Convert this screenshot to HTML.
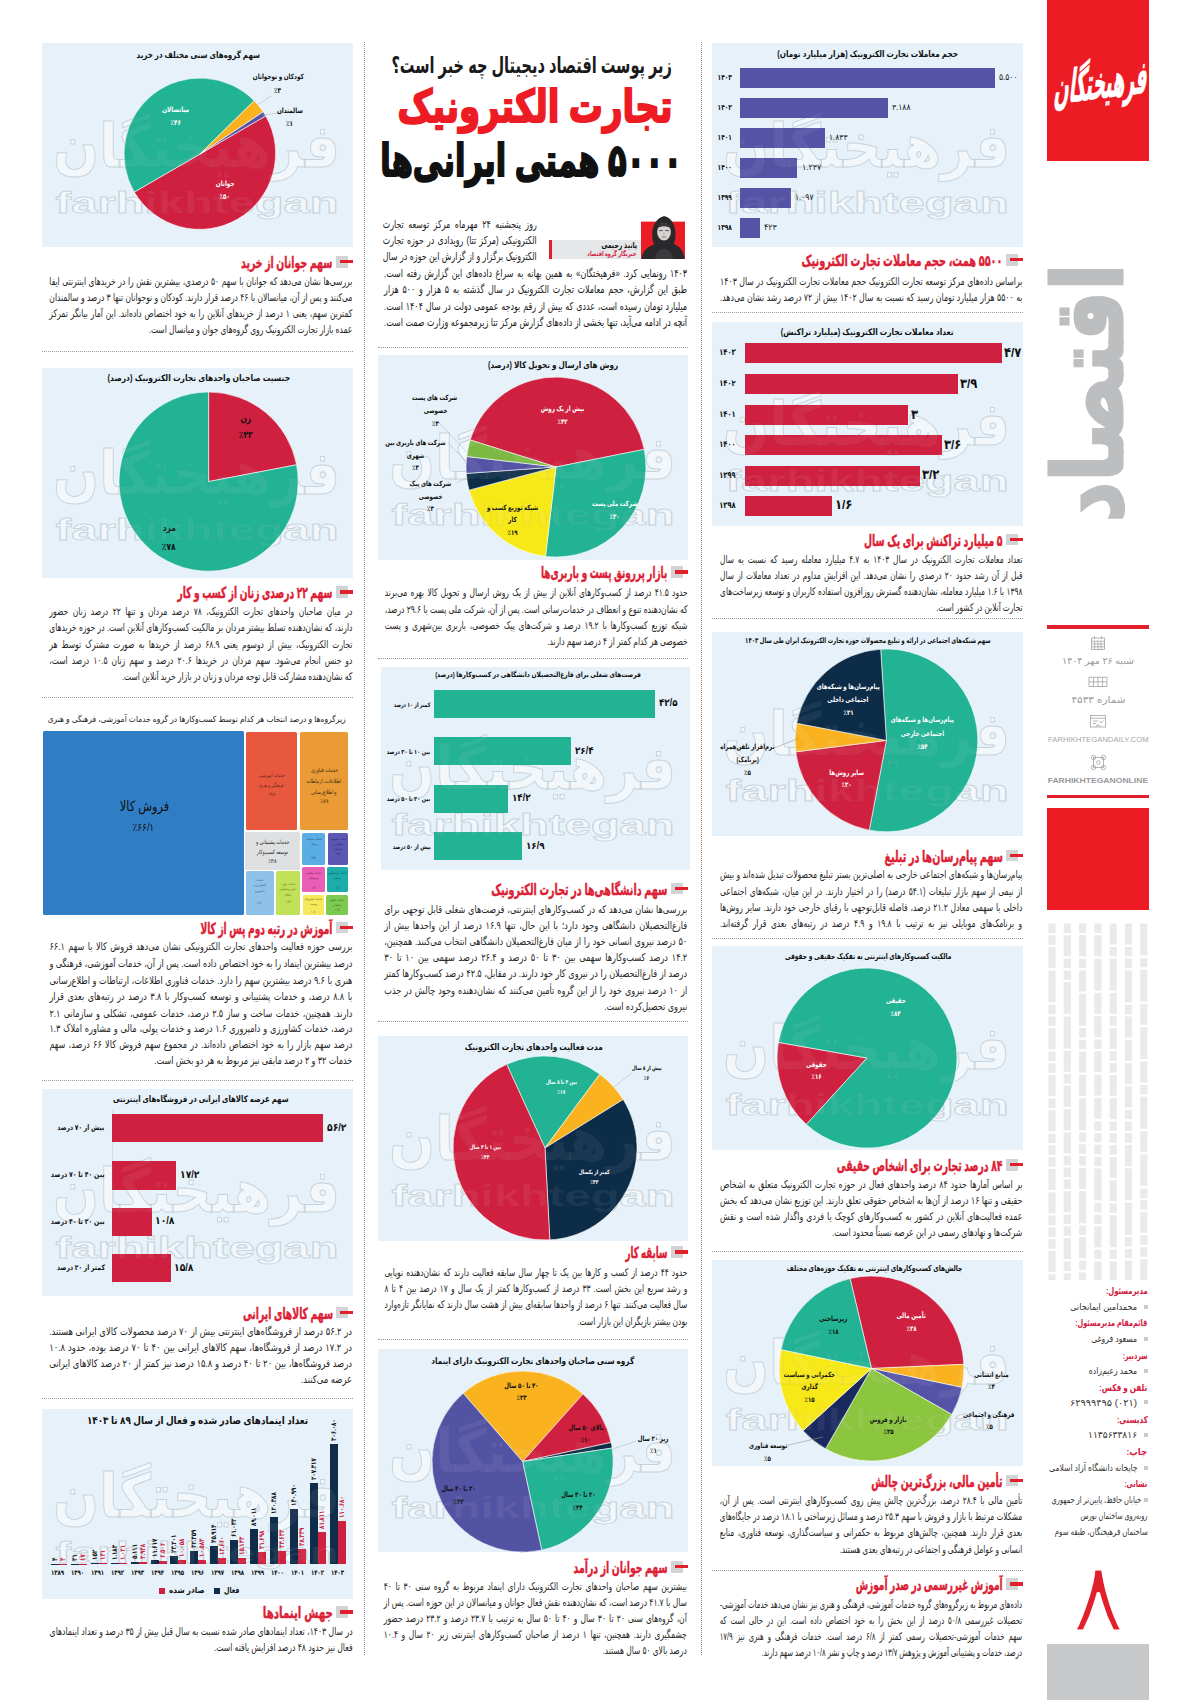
<!DOCTYPE html>
<html lang="fa"><head><meta charset="utf-8"><title>اقتصاد - فرهیختگان</title><style>
*{box-sizing:border-box}
html,body{margin:0;padding:0}
html{width:1191px;height:1700px;overflow:hidden}
body{width:1191px;height:1700px;position:relative;overflow:hidden;background:#fff;font-family:'Liberation Sans','DejaVu Sans',sans-serif;direction:ltr}
.ab{position:absolute;display:block}
.pn{position:absolute;background:#e6f1fa}
.ct,.rt,.lt{position:absolute;white-space:nowrap;direction:rtl}
.ct{text-align:center}.rt{text-align:right}.lt{text-align:left}
.ct span,.rt span,.lt span{display:inline-block}
.hd{position:absolute;height:0;border-top:1px dotted #9a9a9a}
.vd{position:absolute;width:0;border-left:1px dotted #8a8a8a}
.hh{position:absolute;direction:rtl;width:400px;height:23px;line-height:23px;text-align:right;white-space:nowrap;font-size:15.5px;font-weight:bold;color:#dc1f36;-webkit-text-stroke:0.45px #dc1f36}
.hh span{display:inline-block;transform-origin:right center}
.ln{position:absolute;height:14px;line-height:14px;white-space:nowrap;text-align:justify;text-align-last:justify;transform-origin:right center;direction:rtl}
.ln.ll{text-align:right;text-align-last:right}
.wm{position:absolute;width:400px;text-align:center;color:rgba(255,255,255,.6);opacity:.85;pointer-events:none;font-family:'Liberation Sans','DejaVu Sans',sans-serif;font-weight:bold;white-space:nowrap}
.wm span{display:inline-block}
.wm.wo{color:rgba(255,255,255,.06);opacity:1}
.wm.wo .wm1,.wm.wo .wm2{-webkit-text-stroke:.8px rgba(90,110,125,.07)}
.wm1{direction:rtl;font-size:60px;line-height:74px;height:74px;-webkit-text-stroke:1px #ccd6dd}
.wm2{direction:ltr;font-size:30px;line-height:34px;height:34px;-webkit-text-stroke:.9px #ccd6dd;margin-top:2px}
.vl{position:absolute;width:0;height:0}
.vl span{position:absolute;left:0;top:0;white-space:nowrap;font-weight:bold;transform:translate(0,-50%) rotate(-90deg) scaleX(.77);transform-origin:left center;line-height:8px;height:8px;margin-top:0;direction:rtl}
.logo{position:absolute;direction:rtl;text-align:center;white-space:nowrap;color:#fff;font-weight:bold;font-size:30px;line-height:60px;height:60px;font-family:'Liberation Sans','DejaVu Sans',sans-serif}
.logo span{display:inline-block;transform:rotate(-7deg) skewX(-14deg) scaleX(.585) scaleY(1.5);-webkit-text-stroke:.6px #fff}
.sect{position:absolute;width:0;height:0}
.sect span{position:absolute;left:0;top:0;white-space:nowrap;color:#bcbec0;-webkit-text-stroke:2.5px #bcbec0;font-weight:bold;font-size:80px;line-height:80px;font-family:'Liberation Sans','DejaVu Sans',sans-serif;transform:translate(-50%,-50%) rotate(-90deg) scale(.985,1.2);display:block}
.pno{position:absolute;text-align:center;color:#e2202c;font-size:98px;line-height:100px;height:100px;-webkit-text-stroke:3px #fff;font-family:'Liberation Sans','DejaVu Sans',sans-serif;font-weight:normal}
.pno span{display:inline-block;transform:scaleX(1.02)}
</style></head><body>
<div class="vd" style="left:364.4px;top:42px;height:1613px"></div>
<div class="vd" style="left:701.4px;top:42px;height:1613px"></div>
<div class="pn" style="left:712.1px;top:43px;width:310.7px;height:204px"></div>
<div class="wm" style="left:667.0px;top:110.0px"><div class="wm1"><span style="transform:scaleX(0.899)">فرهیختگان</span></div><div class="wm2"><span style="transform:scaleX(1.572)">farhikhtegan</span></div></div>
<div class="ct" style="left:467.9px;top:47.6px;width:800px;height:12.3px;line-height:12.3px;font-size:8.8px;color:#111;font-weight:bold;font-family:'Liberation Sans','DejaVu Sans',sans-serif;"><span style="transform:scaleX(0.8315)">حجم معاملات تجارت الکترونیک (هزار میلیارد تومان)</span></div>
<div class="ab" style="left:740.0px;top:68.0px;width:254.6px;height:19.6px;background:#5553a6;"></div>
<div class="ct" style="left:324.3px;top:71.9px;width:800px;height:11.2px;line-height:11.2px;font-size:8px;color:#111;font-weight:bold;font-family:'Liberation Sans','DejaVu Sans',sans-serif;"><span style="transform:scaleX(0.7322)">۱۴۰۳</span></div>
<div class="lt" style="left:999.1px;top:71.5px;width:400px;height:11.9px;line-height:11.9px;font-size:8.5px;color:#222;font-weight:normal;font-family:'Liberation Sans','DejaVu Sans',sans-serif;"><span style="transform:scaleX(0.8970);transform-origin:left center">۵.۵۰۰</span></div>
<div class="ab" style="left:740.0px;top:98.0px;width:147.5px;height:19.6px;background:#5553a6;"></div>
<div class="ct" style="left:324.3px;top:101.9px;width:800px;height:11.2px;line-height:11.2px;font-size:8px;color:#111;font-weight:bold;font-family:'Liberation Sans','DejaVu Sans',sans-serif;"><span style="transform:scaleX(0.7322)">۱۴۰۲</span></div>
<div class="lt" style="left:892.0px;top:101.5px;width:400px;height:11.9px;line-height:11.9px;font-size:8.5px;color:#222;font-weight:normal;font-family:'Liberation Sans','DejaVu Sans',sans-serif;"><span style="transform:scaleX(0.8970);transform-origin:left center">۳.۱۸۸</span></div>
<div class="ab" style="left:740.0px;top:128.0px;width:84.8px;height:19.6px;background:#5553a6;"></div>
<div class="ct" style="left:324.3px;top:131.9px;width:800px;height:11.2px;line-height:11.2px;font-size:8px;color:#111;font-weight:bold;font-family:'Liberation Sans','DejaVu Sans',sans-serif;"><span style="transform:scaleX(0.7322)">۱۴۰۱</span></div>
<div class="lt" style="left:829.3px;top:131.6px;width:400px;height:11.9px;line-height:11.9px;font-size:8.5px;color:#222;font-weight:normal;font-family:'Liberation Sans','DejaVu Sans',sans-serif;"><span style="transform:scaleX(0.8970);transform-origin:left center">۱.۸۳۳</span></div>
<div class="ab" style="left:740.0px;top:158.0px;width:57.0px;height:19.6px;background:#5553a6;"></div>
<div class="ct" style="left:324.3px;top:161.9px;width:800px;height:11.2px;line-height:11.2px;font-size:8px;color:#111;font-weight:bold;font-family:'Liberation Sans','DejaVu Sans',sans-serif;"><span style="transform:scaleX(0.7322)">۱۴۰۰</span></div>
<div class="lt" style="left:801.5px;top:161.6px;width:400px;height:11.9px;line-height:11.9px;font-size:8.5px;color:#222;font-weight:normal;font-family:'Liberation Sans','DejaVu Sans',sans-serif;"><span style="transform:scaleX(0.9406);transform-origin:left center">۱.۲۳۷</span></div>
<div class="ab" style="left:740.0px;top:188.0px;width:50.8px;height:19.6px;background:#5553a6;"></div>
<div class="ct" style="left:324.3px;top:191.9px;width:800px;height:11.2px;line-height:11.2px;font-size:8px;color:#111;font-weight:bold;font-family:'Liberation Sans','DejaVu Sans',sans-serif;"><span style="transform:scaleX(0.7322)">۱۳۹۹</span></div>
<div class="lt" style="left:795.3px;top:191.6px;width:400px;height:11.9px;line-height:11.9px;font-size:8.5px;color:#222;font-weight:normal;font-family:'Liberation Sans','DejaVu Sans',sans-serif;"><span style="transform:scaleX(0.8970);transform-origin:left center">۱.۰۹۷</span></div>
<div class="ab" style="left:740.0px;top:218.0px;width:19.5px;height:19.6px;background:#5553a6;"></div>
<div class="ct" style="left:324.3px;top:221.9px;width:800px;height:11.2px;line-height:11.2px;font-size:8px;color:#111;font-weight:bold;font-family:'Liberation Sans','DejaVu Sans',sans-serif;"><span style="transform:scaleX(0.7322)">۱۳۹۸</span></div>
<div class="lt" style="left:764.0px;top:221.6px;width:400px;height:11.9px;line-height:11.9px;font-size:8.5px;color:#222;font-weight:normal;font-family:'Liberation Sans','DejaVu Sans',sans-serif;"><span style="transform:scaleX(0.9341);transform-origin:left center">۴۲۳</span></div>
<div class="ab" style="left:1006.3px;top:254.0px;width:12.1px;height:11.5px;background:#d1d3d4;"></div>
<div class="ab" style="left:1010.0px;top:258.0px;width:12.8px;height:3.3px;background:#e2202c;"></div>
<div class="hh" style="left:602.8px;top:249.1px"><span style="transform:scaleX(0.6291)">۵۵۰۰ همت، حجم معاملات تجارت الکترونیک</span></div>
<div class="ln" style="right:168.8px;top:274.3px;width:407.5px;font-size:10.5px;color:#262626;transform:scaleX(0.7421)">براساس داده‌های مرکز توسعه تجارت الکترونیک حجم معاملات تجارت الکترونیک در سال ۱۴۰۳</div>
<div class="ln" style="right:168.8px;top:289.5px;width:407.5px;font-size:10.5px;color:#262626;transform:scaleX(0.7421)">به ۵۵۰۰ هزار میلیارد تومان رسید که نسبت به سال ۱۴۰۲ بیش از ۷۲ درصد رشد نشان می‌دهد.</div>
<div class="hd" style="left:712.1px;top:312px;width:310.7px"></div>
<div class="pn" style="left:712.1px;top:321.5px;width:310.7px;height:204px"></div>
<div class="wm" style="left:667.0px;top:388.0px"><div class="wm1"><span style="transform:scaleX(0.899)">فرهیختگان</span></div><div class="wm2"><span style="transform:scaleX(1.572)">farhikhtegan</span></div></div>
<div class="ct" style="left:467.6px;top:325.9px;width:800px;height:12.3px;line-height:12.3px;font-size:8.8px;color:#111;font-weight:bold;font-family:'Liberation Sans','DejaVu Sans',sans-serif;"><span style="transform:scaleX(0.8450)">تعداد معاملات تجارت الکترونیک (میلیارد تراکنش)</span></div>
<div class="ab" style="left:745.0px;top:343.4px;width:256.7px;height:20.0px;background:#cf2040;"></div>
<div class="ct" style="left:327.2px;top:347.4px;width:800px;height:11.9px;line-height:11.9px;font-size:8.5px;color:#111;font-weight:bold;font-family:'Liberation Sans','DejaVu Sans',sans-serif;"><span style="transform:scaleX(0.7946)">۱۴۰۳</span></div>
<div class="lt" style="left:1004.2px;top:344.2px;width:400px;height:17.6px;line-height:17.6px;font-size:13.5px;color:#111;font-weight:bold;font-family:'Liberation Sans','DejaVu Sans',sans-serif;"><span style="transform:scaleX(0.86);transform-origin:left center">۴/۷</span></div>
<div class="ab" style="left:745.0px;top:374.2px;width:212.8px;height:20.0px;background:#cf2040;"></div>
<div class="ct" style="left:327.2px;top:378.2px;width:800px;height:11.9px;line-height:11.9px;font-size:8.5px;color:#111;font-weight:bold;font-family:'Liberation Sans','DejaVu Sans',sans-serif;"><span style="transform:scaleX(0.7946)">۱۴۰۲</span></div>
<div class="lt" style="left:960.3px;top:375.0px;width:400px;height:17.6px;line-height:17.6px;font-size:13.5px;color:#111;font-weight:bold;font-family:'Liberation Sans','DejaVu Sans',sans-serif;"><span style="transform:scaleX(0.86);transform-origin:left center">۳/۹</span></div>
<div class="ab" style="left:745.0px;top:404.8px;width:163.4px;height:20.0px;background:#cf2040;"></div>
<div class="ct" style="left:327.2px;top:408.9px;width:800px;height:11.9px;line-height:11.9px;font-size:8.5px;color:#111;font-weight:bold;font-family:'Liberation Sans','DejaVu Sans',sans-serif;"><span style="transform:scaleX(0.7946)">۱۴۰۱</span></div>
<div class="lt" style="left:910.9px;top:405.6px;width:400px;height:17.6px;line-height:17.6px;font-size:13.5px;color:#111;font-weight:bold;font-family:'Liberation Sans','DejaVu Sans',sans-serif;"><span style="transform:scaleX(0.86);transform-origin:left center">۳</span></div>
<div class="ab" style="left:745.0px;top:434.7px;width:196.8px;height:20.0px;background:#cf2040;"></div>
<div class="ct" style="left:327.2px;top:438.8px;width:800px;height:11.9px;line-height:11.9px;font-size:8.5px;color:#111;font-weight:bold;font-family:'Liberation Sans','DejaVu Sans',sans-serif;"><span style="transform:scaleX(0.7946)">۱۴۰۰</span></div>
<div class="lt" style="left:944.3px;top:435.5px;width:400px;height:17.6px;line-height:17.6px;font-size:13.5px;color:#111;font-weight:bold;font-family:'Liberation Sans','DejaVu Sans',sans-serif;"><span style="transform:scaleX(0.86);transform-origin:left center">۳/۶</span></div>
<div class="ab" style="left:745.0px;top:465.6px;width:174.8px;height:20.0px;background:#cf2040;"></div>
<div class="ct" style="left:327.2px;top:469.7px;width:800px;height:11.9px;line-height:11.9px;font-size:8.5px;color:#111;font-weight:bold;font-family:'Liberation Sans','DejaVu Sans',sans-serif;"><span style="transform:scaleX(0.7946)">۱۳۹۹</span></div>
<div class="lt" style="left:922.3px;top:466.4px;width:400px;height:17.6px;line-height:17.6px;font-size:13.5px;color:#111;font-weight:bold;font-family:'Liberation Sans','DejaVu Sans',sans-serif;"><span style="transform:scaleX(0.86);transform-origin:left center">۳/۲</span></div>
<div class="ab" style="left:745.0px;top:495.5px;width:87.2px;height:20.0px;background:#cf2040;"></div>
<div class="ct" style="left:327.2px;top:499.6px;width:800px;height:11.9px;line-height:11.9px;font-size:8.5px;color:#111;font-weight:bold;font-family:'Liberation Sans','DejaVu Sans',sans-serif;"><span style="transform:scaleX(0.7946)">۱۳۹۸</span></div>
<div class="lt" style="left:834.7px;top:496.3px;width:400px;height:17.6px;line-height:17.6px;font-size:13.5px;color:#111;font-weight:bold;font-family:'Liberation Sans','DejaVu Sans',sans-serif;"><span style="transform:scaleX(0.86);transform-origin:left center">۱/۶</span></div>
<div class="ab" style="left:1006.3px;top:533.9px;width:12.1px;height:11.5px;background:#d1d3d4;"></div>
<div class="ab" style="left:1010.0px;top:537.9px;width:12.8px;height:3.3px;background:#e2202c;"></div>
<div class="hh" style="left:602.8px;top:529.0px"><span style="transform:scaleX(0.5983)">۵ میلیارد تراکنش برای یک سال</span></div>
<div class="ln" style="right:168.8px;top:551.5px;width:427.5px;font-size:10.5px;color:#262626;transform:scaleX(0.7074)">تعداد معاملات تجارت الکترونیک در سال ۱۴۰۳ به ۴.۷ میلیارد معامله رسید که نسبت به سال</div>
<div class="ln" style="right:168.8px;top:567.7px;width:427.5px;font-size:10.5px;color:#262626;transform:scaleX(0.7074)">قبل از آن رشد حدود ۲۰ درصدی را نشان می‌دهد. این افزایش مداوم در تعداد معاملات از سال</div>
<div class="ln" style="right:168.8px;top:584.1px;width:427.5px;font-size:10.5px;color:#262626;transform:scaleX(0.7074)">۱۳۹۸ با ۱.۶ میلیارد معامله، نشان‌دهنده گسترش روزافزون استفاده کاربران و توسعه زیرساخت‌های</div>
<div class="ln ll" style="right:168.8px;top:600.3px;width:427.5px;font-size:10.5px;color:#262626;transform:scaleX(0.7074)">تجارت آنلاین در کشور است.</div>
<div class="hd" style="left:712.1px;top:618px;width:310.7px"></div>
<div class="pn" style="left:712.1px;top:631.5px;width:310.7px;height:204.5px"></div>
<div class="wm" style="left:667.0px;top:698.0px"><div class="wm1"><span style="transform:scaleX(0.899)">فرهیختگان</span></div><div class="wm2"><span style="transform:scaleX(1.572)">farhikhtegan</span></div></div>
<div class="ct" style="left:467.9px;top:635.5px;width:800px;height:10.6px;line-height:10.6px;font-size:7.6px;color:#111;font-weight:bold;font-family:'Liberation Sans','DejaVu Sans',sans-serif;"><span style="transform:scaleX(0.7102)">سهم شبکه‌های اجتماعی در ارائه و تبلیغ محصولات حوزه تجارت الکترونیک ایران طی سال ۱۴۰۳</span></div>
<svg class="ab" style="left:792.6px;top:647.1px" width="186.8" height="186.8" viewBox="792.6 647.1 186.8 186.8"><path d="M886.0 740.5L880.26 649.28A91.4 91.4 0 1 1 868.87 830.28Z" fill="#22b294" stroke="#fff" stroke-width="0.6"/><path d="M886.0 740.5L868.87 830.28A91.4 91.4 0 0 1 795.32 751.96Z" fill="#cf2040" stroke="#fff" stroke-width="0.6"/><path d="M886.0 740.5L795.32 751.96A91.4 91.4 0 0 1 796.22 723.37Z" fill="#fab31e" stroke="#fff" stroke-width="0.6"/><path d="M886.0 740.5L796.22 723.37A91.4 91.4 0 0 1 880.26 649.28Z" fill="#0c2c47" stroke="#fff" stroke-width="0.6"/></svg>
<div class="ct" style="left:772.7px;top:715.2px;width:300px;height:9.4px;line-height:9.4px;font-size:7.2px;color:#fff;font-weight:bold;"><span style="transform:scaleX(0.765)">پیام‌رسان‌ها و شبکه‌های</span></div>
<div class="ct" style="left:772.7px;top:728.6px;width:300px;height:9.4px;line-height:9.4px;font-size:7.2px;color:#fff;font-weight:bold;"><span style="transform:scaleX(0.765)">اجتماعی خارجی</span></div>
<div class="ct" style="left:772.7px;top:741.8px;width:300px;height:9.4px;line-height:9.4px;font-size:7.2px;color:#fff;font-weight:bold;"><span style="transform:scaleX(0.765)">٪۵۴</span></div>
<div class="ct" style="left:698.4px;top:681.8px;width:300px;height:9.4px;line-height:9.4px;font-size:7.2px;color:#fff;font-weight:bold;"><span style="transform:scaleX(0.765)">پیام‌رسان‌ها و شبکه‌های</span></div>
<div class="ct" style="left:698.4px;top:694.7px;width:300px;height:9.4px;line-height:9.4px;font-size:7.2px;color:#fff;font-weight:bold;"><span style="transform:scaleX(0.765)">اجتماعی داخلی</span></div>
<div class="ct" style="left:698.4px;top:707.5px;width:300px;height:9.4px;line-height:9.4px;font-size:7.2px;color:#fff;font-weight:bold;"><span style="transform:scaleX(0.765)">٪۲۱</span></div>
<div class="ct" style="left:696.2px;top:768.0px;width:300px;height:9.4px;line-height:9.4px;font-size:7.2px;color:#fff;font-weight:bold;"><span style="transform:scaleX(0.765)">سایر روش‌ها</span></div>
<div class="ct" style="left:696.2px;top:780.0px;width:300px;height:9.4px;line-height:9.4px;font-size:7.2px;color:#fff;font-weight:bold;"><span style="transform:scaleX(0.765)">٪۲۰</span></div>
<div class="ct" style="left:597.1px;top:741.8px;width:300px;height:9.4px;line-height:9.4px;font-size:7.2px;color:#111;font-weight:bold;"><span style="transform:scaleX(0.765)">نرم‌افزار تلفن‌همراه</span></div>
<div class="ct" style="left:597.1px;top:754.6px;width:300px;height:9.4px;line-height:9.4px;font-size:7.2px;color:#111;font-weight:bold;"><span style="transform:scaleX(0.765)">(برنامک)</span></div>
<div class="ct" style="left:597.1px;top:768.0px;width:300px;height:9.4px;line-height:9.4px;font-size:7.2px;color:#111;font-weight:bold;"><span style="transform:scaleX(0.765)">٪۵</span></div>
<svg class="ab" style="left:771.8px;top:737.5px" width="26.2" height="11.4" viewBox="771.8 737.5 26.2 11.4"><path d="M772.8 747.9L797.0 738.5" stroke="#999" stroke-width="0.6" fill="none"/></svg>
<div class="ab" style="left:1006.3px;top:849.7px;width:12.1px;height:11.5px;background:#d1d3d4;"></div>
<div class="ab" style="left:1010.0px;top:853.7px;width:12.8px;height:3.3px;background:#e2202c;"></div>
<div class="hh" style="left:602.8px;top:844.8px"><span style="transform:scaleX(0.6174)">سهم پیام‌رسان‌ها در تبلیغ</span></div>
<div class="ln" style="right:168.8px;top:867.2px;width:417.3px;font-size:10.5px;color:#262626;transform:scaleX(0.7247)">پیام‌رسان‌ها و شبکه‌های اجتماعی خارجی به اصلی‌ترین بستر تبلیغ محصولات تبدیل شده‌اند و بیش</div>
<div class="ln" style="right:168.8px;top:883.7px;width:417.3px;font-size:10.5px;color:#262626;transform:scaleX(0.7247)">از نیمی از سهم بازار تبلیغات (۵۴.۱ درصد) را در اختیار دارند. در این میان، شبکه‌های اجتماعی</div>
<div class="ln" style="right:168.8px;top:900.0px;width:417.3px;font-size:10.5px;color:#262626;transform:scaleX(0.7247)">داخلی با سهمی معادل ۲۱.۲ درصد، فاصله قابل‌توجهی با رقبای خارجی خود دارند. سایر روش‌ها</div>
<div class="ln" style="right:168.8px;top:916.0px;width:417.3px;font-size:10.5px;color:#262626;transform:scaleX(0.7247)">و برنامک‌های موبایلی نیز به ترتیب با ۱۹.۸ و ۴.۹ درصد در رتبه‌های بعدی قرار گرفته‌اند.</div>
<div class="hd" style="left:712.1px;top:937.5px;width:310.7px"></div>
<div class="pn" style="left:712.1px;top:945.7px;width:310.7px;height:204px"></div>
<div class="wm" style="left:667.0px;top:1012.0px"><div class="wm1"><span style="transform:scaleX(0.899)">فرهیختگان</span></div><div class="wm2"><span style="transform:scaleX(1.572)">farhikhtegan</span></div></div>
<div class="ct" style="left:467.9px;top:950.5px;width:800px;height:11.5px;line-height:11.5px;font-size:8.2px;color:#111;font-weight:bold;font-family:'Liberation Sans','DejaVu Sans',sans-serif;"><span style="transform:scaleX(0.7223)">مالکیت کسب‌وکارهای اینترنتی به تفکیک حقیقی و حقوقی</span></div>
<svg class="ab" style="left:774.9px;top:965.6px" width="184.0" height="184.0" viewBox="774.9 965.6 184.0 184.0"><path d="M866.9 1057.6L806.21 1124.06A90.0 90.0 0 0 1 778.27 1041.97Z" fill="#cf2040" stroke="#fff" stroke-width="0.6"/><path d="M866.9 1057.6L778.27 1041.97A90.0 90.0 0 1 1 806.21 1124.06Z" fill="#22b294" stroke="#fff" stroke-width="0.6"/></svg>
<div class="ct" style="left:745.5px;top:996.1px;width:300px;height:9.4px;line-height:9.4px;font-size:7.2px;color:#fff;font-weight:bold;"><span style="transform:scaleX(0.765)">حقیقی</span></div>
<div class="ct" style="left:745.5px;top:1008.6px;width:300px;height:9.4px;line-height:9.4px;font-size:7.2px;color:#fff;font-weight:bold;"><span style="transform:scaleX(0.765)">٪۸۴</span></div>
<div class="ct" style="left:666.5px;top:1060.0px;width:300px;height:9.4px;line-height:9.4px;font-size:7.2px;color:#fff;font-weight:bold;"><span style="transform:scaleX(0.765)">حقوقی</span></div>
<div class="ct" style="left:666.5px;top:1072.3px;width:300px;height:9.4px;line-height:9.4px;font-size:7.2px;color:#fff;font-weight:bold;"><span style="transform:scaleX(0.765)">٪۱۶</span></div>
<div class="ab" style="left:1006.3px;top:1159.1px;width:12.1px;height:11.5px;background:#d1d3d4;"></div>
<div class="ab" style="left:1010.0px;top:1163.1px;width:12.8px;height:3.3px;background:#e2202c;"></div>
<div class="hh" style="left:602.8px;top:1154.2px"><span style="transform:scaleX(0.5969)">۸۴ درصد تجارت برای اشخاص حقیقی</span></div>
<div class="ln" style="right:168.8px;top:1177.2px;width:406.4px;font-size:10.5px;color:#262626;transform:scaleX(0.7440)">بر اساس آمارها حدود ۸۴ درصد واحدهای فعال در حوزه تجارت الکترونیک متعلق به اشخاص</div>
<div class="ln" style="right:168.8px;top:1193.1px;width:406.4px;font-size:10.5px;color:#262626;transform:scaleX(0.7440)">حقیقی و تنها ۱۶ درصد از آن‌ها به اشخاص حقوقی تعلق دارند. این توزیع نشان می‌دهد که بخش</div>
<div class="ln" style="right:168.8px;top:1209.2px;width:406.4px;font-size:10.5px;color:#262626;transform:scaleX(0.7440)">عمده فعالیت‌های آنلاین در کشور به کسب‌وکارهای کوچک یا فردی واگذار شده است و نقش</div>
<div class="ln ll" style="right:168.8px;top:1225.2px;width:406.4px;font-size:10.5px;color:#262626;transform:scaleX(0.7440)">شرکت‌ها و نهادهای رسمی در این عرصه نسبتاً محدود است.</div>
<div class="hd" style="left:712.1px;top:1250.5px;width:310.7px"></div>
<div class="pn" style="left:712.1px;top:1260px;width:310.7px;height:205.5px"></div>
<div class="wm" style="left:667.0px;top:1327.0px"><div class="wm1"><span style="transform:scaleX(0.899)">فرهیختگان</span></div><div class="wm2"><span style="transform:scaleX(1.572)">farhikhtegan</span></div></div>
<div class="ct" style="left:474.7px;top:1263.2px;width:800px;height:11.5px;line-height:11.5px;font-size:8.2px;color:#111;font-weight:bold;font-family:'Liberation Sans','DejaVu Sans',sans-serif;"><span style="transform:scaleX(0.7339)">چالش‌های کسب‌وکارهای اینترنتی به تفکیک حوزه‌های مختلف</span></div>
<svg class="ab" style="left:776.8px;top:1274.0px" width="189.0" height="189.0" viewBox="776.8 1274.0 189.0 189.0"><path d="M871.3 1368.5L849.86 1278.52A92.5 92.5 0 0 1 963.70 1364.30Z" fill="#cf2040" stroke="#fff" stroke-width="0.6"/><path d="M871.3 1368.5L963.70 1364.30A92.5 92.5 0 0 1 961.85 1387.42Z" fill="#fab31e" stroke="#fff" stroke-width="0.6"/><path d="M871.3 1368.5L961.85 1387.42A92.5 92.5 0 0 1 951.57 1414.47Z" fill="#5553a6" stroke="#fff" stroke-width="0.6"/><path d="M871.3 1368.5L951.57 1414.47A92.5 92.5 0 0 1 825.33 1448.77Z" fill="#8cc63f" stroke="#fff" stroke-width="0.6"/><path d="M871.3 1368.5L825.33 1448.77A92.5 92.5 0 0 1 802.78 1430.63Z" fill="#1b2a5e" stroke="#fff" stroke-width="0.6"/><path d="M871.3 1368.5L802.78 1430.63A92.5 92.5 0 0 1 780.75 1349.58Z" fill="#f7e817" stroke="#fff" stroke-width="0.6"/><path d="M871.3 1368.5L780.75 1349.58A92.5 92.5 0 0 1 849.86 1278.52Z" fill="#22b294" stroke="#fff" stroke-width="0.6"/></svg>
<div class="ct" style="left:761.2px;top:1310.9px;width:300px;height:9.4px;line-height:9.4px;font-size:7.2px;color:#fff;font-weight:bold;"><span style="transform:scaleX(0.765)">تأمین مالی</span></div>
<div class="ct" style="left:761.2px;top:1323.8px;width:300px;height:9.4px;line-height:9.4px;font-size:7.2px;color:#fff;font-weight:bold;"><span style="transform:scaleX(0.765)">٪۲۸</span></div>
<div class="ct" style="left:683.6px;top:1313.8px;width:300px;height:9.4px;line-height:9.4px;font-size:7.2px;color:#111;font-weight:bold;"><span style="transform:scaleX(0.765)">زیرساختی</span></div>
<div class="ct" style="left:683.6px;top:1326.6px;width:300px;height:9.4px;line-height:9.4px;font-size:7.2px;color:#111;font-weight:bold;"><span style="transform:scaleX(0.765)">٪۱۸</span></div>
<div class="ct" style="left:659.9px;top:1369.5px;width:300px;height:9.4px;line-height:9.4px;font-size:7.2px;color:#111;font-weight:bold;"><span style="transform:scaleX(0.765)">حکمرانی و سیاست</span></div>
<div class="ct" style="left:659.9px;top:1382.3px;width:300px;height:9.4px;line-height:9.4px;font-size:7.2px;color:#111;font-weight:bold;"><span style="transform:scaleX(0.765)">گذاری</span></div>
<div class="ct" style="left:659.9px;top:1395.2px;width:300px;height:9.4px;line-height:9.4px;font-size:7.2px;color:#111;font-weight:bold;"><span style="transform:scaleX(0.765)">٪۱۵</span></div>
<div class="ct" style="left:738.4px;top:1414.6px;width:300px;height:9.4px;line-height:9.4px;font-size:7.2px;color:#111;font-weight:bold;"><span style="transform:scaleX(0.765)">بازار و فروش</span></div>
<div class="ct" style="left:738.4px;top:1427.1px;width:300px;height:9.4px;line-height:9.4px;font-size:7.2px;color:#111;font-weight:bold;"><span style="transform:scaleX(0.765)">٪۲۵</span></div>
<div class="ct" style="left:841.2px;top:1370.0px;width:300px;height:9.4px;line-height:9.4px;font-size:7.2px;color:#111;font-weight:bold;"><span style="transform:scaleX(0.765)">منابع انسانی</span></div>
<div class="ct" style="left:841.2px;top:1382.3px;width:300px;height:9.4px;line-height:9.4px;font-size:7.2px;color:#111;font-weight:bold;"><span style="transform:scaleX(0.765)">٪۴</span></div>
<div class="ct" style="left:838.9px;top:1410.0px;width:300px;height:9.4px;line-height:9.4px;font-size:7.2px;color:#111;font-weight:bold;"><span style="transform:scaleX(0.765)">فرهنگی و اجتماعی</span></div>
<div class="ct" style="left:838.9px;top:1422.3px;width:300px;height:9.4px;line-height:9.4px;font-size:7.2px;color:#111;font-weight:bold;"><span style="transform:scaleX(0.765)">٪۵</span></div>
<div class="ct" style="left:617.7px;top:1440.8px;width:300px;height:9.4px;line-height:9.4px;font-size:7.2px;color:#111;font-weight:bold;"><span style="transform:scaleX(0.765)">توسعه فناوری</span></div>
<div class="ct" style="left:617.7px;top:1453.7px;width:300px;height:9.4px;line-height:9.4px;font-size:7.2px;color:#111;font-weight:bold;"><span style="transform:scaleX(0.765)">٪۵</span></div>
<svg class="ab" style="left:786.0px;top:1436.0px" width="37.7" height="10.5" viewBox="786.0 1436.0 37.7 10.5"><path d="M787.0 1445.5L822.7 1437.0" stroke="#999" stroke-width="0.6" fill="none"/></svg>
<div class="ab" style="left:1006.3px;top:1474.8px;width:12.1px;height:11.5px;background:#d1d3d4;"></div>
<div class="ab" style="left:1010.0px;top:1478.8px;width:12.8px;height:3.3px;background:#e2202c;"></div>
<div class="hh" style="left:602.8px;top:1469.9px"><span style="transform:scaleX(0.6038)">تأمین مالی، بزرگ‌ترین چالش</span></div>
<div class="ln" style="right:168.8px;top:1492.9px;width:431.3px;font-size:10.5px;color:#262626;transform:scaleX(0.7012)">تأمین مالی با ۲۸.۴ درصد، بزرگ‌ترین چالش پیش روی کسب‌وکارهای اینترنتی است. پس از آن،</div>
<div class="ln" style="right:168.8px;top:1508.7px;width:431.3px;font-size:10.5px;color:#262626;transform:scaleX(0.7012)">مشکلات مرتبط با بازار و فروش با سهم ۲۵.۳ درصد و مسائل زیرساختی با ۱۸.۱ درصد در جایگاه‌های</div>
<div class="ln" style="right:168.8px;top:1524.7px;width:431.3px;font-size:10.5px;color:#262626;transform:scaleX(0.7012)">بعدی قرار دارند. همچنین، چالش‌های مربوط به حکمرانی و سیاست‌گذاری، توسعه فناوری، منابع</div>
<div class="ln ll" style="right:168.8px;top:1541.7px;width:431.3px;font-size:10.5px;color:#262626;transform:scaleX(0.7012)">انسانی و عوامل فرهنگی و اجتماعی در رتبه‌های بعدی هستند.</div>
<div class="hd" style="left:712.1px;top:1570px;width:310.7px"></div>
<div class="ab" style="left:1006.3px;top:1578.3px;width:12.1px;height:11.5px;background:#d1d3d4;"></div>
<div class="ab" style="left:1010.0px;top:1582.3px;width:12.8px;height:3.3px;background:#e2202c;"></div>
<div class="hh" style="left:602.8px;top:1573.4px"><span style="transform:scaleX(0.5796)">آموزش غیررسمی در صدر آموزش</span></div>
<div class="ln" style="right:168.8px;top:1596.7px;width:461.1px;font-size:10.5px;color:#262626;transform:scaleX(0.6559)">داده‌های مربوط به زیرگروه‌های گروه خدمات آموزشی، فرهنگی و هنری نیز نشان می‌دهد خدمات آموزشی-</div>
<div class="ln" style="right:168.8px;top:1612.9px;width:461.1px;font-size:10.5px;color:#262626;transform:scaleX(0.6559)">تحصیلات غیررسمی ۵۰/۸ درصد از این بخش را به خود اختصاص داده است. این در حالی است که</div>
<div class="ln" style="right:168.8px;top:1628.7px;width:461.1px;font-size:10.5px;color:#262626;transform:scaleX(0.6559)">سهم خدمات آموزشی-تحصیلات رسمی کمتر از ۶/۸ درصد است. خدمات فرهنگی و هنری نیز ۱۷/۹</div>
<div class="ln ll" style="right:168.8px;top:1644.5px;width:461.1px;font-size:10.5px;color:#262626;transform:scaleX(0.6559)">درصد، خدمات و پشتیبانی آموزش و پژوهش ۱۳/۷ درصد و چاپ و نشر ۱۰/۸ درصد سهم دارند.</div>
<div class="ct" style="left:131.3px;top:49.4px;width:800px;height:32.2px;line-height:32.2px;font-size:23px;color:#1a1a1a;font-weight:bold;font-family:'Liberation Sans','DejaVu Sans',sans-serif;"><span style="transform:scaleX(0.6327)">زیر پوست اقتصاد دیجیتال چه خبر است؟</span></div>
<div class="ct" style="left:134.8px;top:74.5px;width:800px;height:63.0px;line-height:63.0px;font-size:45px;color:#ed1c24;font-weight:bold;font-family:'Liberation Sans','DejaVu Sans',sans-serif;-webkit-text-stroke:2px #ed1c24;"><span style="transform:scaleX(0.7554)">تجارت الکترونیک</span></div>
<div class="ct" style="left:131.0px;top:128.5px;width:800px;height:63.0px;line-height:63.0px;font-size:45px;color:#111;font-weight:bold;font-family:'Liberation Sans','DejaVu Sans',sans-serif;-webkit-text-stroke:2px #111;"><span style="transform:scaleX(0.6765)">۵۰۰۰ همتی ایرانی‌ها</span></div>
<div class="ab" style="left:549.0px;top:240.0px;width:92.0px;height:19.4px;background:#e6e7e8;"></div>
<div class="ab" style="left:549.0px;top:240.0px;width:3.0px;height:19.4px;background:#e2202c;"></div>
<svg class="ab" style="left:640.8px;top:215.4px" width="44.2" height="44" viewBox="0 0 44.2 44">
<rect y="6.6" width="44.2" height="37.4" fill="#ed1c24"/>
<path d="M0.5 44C1.5 35 8 31.5 13 29.5C9.5 21 10.5 4.5 23 1C35.5 4 36 20 33 29C38 31 42.5 35 43.7 44Z" fill="#29292b"/>
<path d="M14 44C15 37 19 34 23 34C27 34 31 37 32 44Z" fill="#3b3b3d"/>
<ellipse cx="23" cy="16.8" rx="6.9" ry="8.8" fill="#d6d3d1"/>
<path d="M15.7 14.5C17 6 28.5 5.5 30.3 14.5C27.5 10.3 18.5 10.3 15.7 14.5Z" fill="#353537"/>
<path d="M18.3 15.6h3.4M24.4 15.6h3.4" stroke="#4a4646" stroke-width="1"/><path d="M22.9 17v3.4" stroke="#b9b1ad" stroke-width=".8"/><path d="M20.8 22h4.6" stroke="#8a7b78" stroke-width="1"/>
</svg>
<div class="rt" style="left:236.8px;top:239.7px;width:400px;height:11.9px;line-height:11.9px;font-size:8.5px;color:#111;font-weight:bold;font-family:'Liberation Sans','DejaVu Sans',sans-serif;"><span style="transform:scaleX(0.7249);transform-origin:right center">پانیذ رحیمی</span></div>
<div class="rt" style="left:236.8px;top:249.4px;width:400px;height:9.5px;line-height:9.5px;font-size:6.8px;color:#d3203f;font-weight:bold;font-family:'Liberation Sans','DejaVu Sans',sans-serif;"><span style="transform:scaleX(0.7274);transform-origin:right center">خبرنگار گروه اقتصاد</span></div>
<div class="ln" style="right:654.5px;top:217.1px;width:214.8px;font-size:11px;color:#1a1a1a;transform:scaleX(0.7169)">روز پنجشنبه ۲۴ مهرماه مرکز توسعه تجارت</div>
<div class="ln" style="right:654.5px;top:233.2px;width:214.8px;font-size:11px;color:#1a1a1a;transform:scaleX(0.7169)">الکترونیکی (مرکز تتا) رویدادی در حوزه تجارت</div>
<div class="ln" style="right:654.5px;top:249.4px;width:214.8px;font-size:11px;color:#1a1a1a;transform:scaleX(0.7169)">الکترونیک برگزار و از گزارش این حوزه در سال</div>
<div class="ln" style="right:503.8px;top:265.6px;width:419.1px;font-size:11px;color:#1a1a1a;transform:scaleX(0.7230)">۱۴۰۳ رونمایی کرد. «فرهیختگان» به همین بهانه به سراغ داده‌های این گزارش رفته است.</div>
<div class="ln" style="right:503.8px;top:281.9px;width:419.1px;font-size:11px;color:#1a1a1a;transform:scaleX(0.7230)">طبق این گزارش، حجم معاملات تجارت الکترونیک در سال گذشته به ۵ هزار و ۵۰۰ هزار</div>
<div class="ln" style="right:503.8px;top:298.5px;width:419.1px;font-size:11px;color:#1a1a1a;transform:scaleX(0.7230)">میلیارد تومان رسیده است، عددی که بیش از رقم بودجه عمومی دولت در سال ۱۴۰۴ است.</div>
<div class="ln" style="right:503.8px;top:315.0px;width:419.1px;font-size:11px;color:#1a1a1a;transform:scaleX(0.7230)">آنچه در ادامه می‌آید، تنها بخشی از داده‌های گزارش مرکز تتا زیرمجموعه وزارت صمت است.</div>
<div class="hd" style="left:377.6px;top:347px;width:310.1px"></div>
<div class="pn" style="left:377.6px;top:355px;width:310.1px;height:205px"></div>
<div class="wm" style="left:333.0px;top:422.0px"><div class="wm1"><span style="transform:scaleX(0.899)">فرهیختگان</span></div><div class="wm2"><span style="transform:scaleX(1.572)">farhikhtegan</span></div></div>
<div class="ct" style="left:153.4px;top:358.9px;width:800px;height:12.3px;line-height:12.3px;font-size:8.8px;color:#111;font-weight:bold;font-family:'Liberation Sans','DejaVu Sans',sans-serif;"><span style="transform:scaleX(0.8227)">روش های ارسال و تحویل کالا (درصد)</span></div>
<svg class="ab" style="left:464.0px;top:375.0px" width="184.0" height="184.0" viewBox="464.0 375.0 184.0 184.0"><path d="M556.0 467.0L470.17 439.94A90.0 90.0 0 0 1 644.26 449.36Z" fill="#cf2040" stroke="#fff" stroke-width="0.6"/><path d="M556.0 467.0L644.26 449.36A90.0 90.0 0 0 1 545.50 556.39Z" fill="#22b294" stroke="#fff" stroke-width="0.6"/><path d="M556.0 467.0L545.50 556.39A90.0 90.0 0 0 1 469.03 490.14Z" fill="#f7e817" stroke="#fff" stroke-width="0.6"/><path d="M556.0 467.0L469.03 490.14A90.0 90.0 0 0 1 466.23 473.43Z" fill="#0c2c47" stroke="#fff" stroke-width="0.6"/><path d="M556.0 467.0L466.23 473.43A90.0 90.0 0 0 1 466.61 456.50Z" fill="#5553a6" stroke="#fff" stroke-width="0.6"/><path d="M556.0 467.0L466.61 456.50A90.0 90.0 0 0 1 470.17 439.94Z" fill="#7bb943" stroke="#fff" stroke-width="0.6"/></svg>
<div class="ct" style="left:412.8px;top:404.3px;width:300px;height:9.4px;line-height:9.4px;font-size:7.2px;color:#fff;font-weight:bold;"><span style="transform:scaleX(0.765)">بیش از یک روش</span></div>
<div class="ct" style="left:412.8px;top:417.0px;width:300px;height:9.4px;line-height:9.4px;font-size:7.2px;color:#fff;font-weight:bold;"><span style="transform:scaleX(0.765)">٪۴۲</span></div>
<div class="ct" style="left:465.0px;top:499.0px;width:300px;height:9.4px;line-height:9.4px;font-size:7.2px;color:#fff;font-weight:bold;"><span style="transform:scaleX(0.765)">شرکت ملی پست</span></div>
<div class="ct" style="left:465.0px;top:511.6px;width:300px;height:9.4px;line-height:9.4px;font-size:7.2px;color:#fff;font-weight:bold;"><span style="transform:scaleX(0.765)">٪۳۰</span></div>
<div class="ct" style="left:362.8px;top:502.8px;width:300px;height:9.4px;line-height:9.4px;font-size:7.2px;color:#111;font-weight:bold;"><span style="transform:scaleX(0.765)">شبکه توزیع کسب و</span></div>
<div class="ct" style="left:362.8px;top:515.1px;width:300px;height:9.4px;line-height:9.4px;font-size:7.2px;color:#111;font-weight:bold;"><span style="transform:scaleX(0.765)">کار</span></div>
<div class="ct" style="left:362.8px;top:528.3px;width:300px;height:9.4px;line-height:9.4px;font-size:7.2px;color:#111;font-weight:bold;"><span style="transform:scaleX(0.765)">٪۱۹</span></div>
<div class="ct" style="left:285.0px;top:393.2px;width:300px;height:9.4px;line-height:9.4px;font-size:7.2px;color:#111;font-weight:bold;"><span style="transform:scaleX(0.765)">شرکت های پست</span></div>
<div class="ct" style="left:285.0px;top:405.8px;width:300px;height:9.4px;line-height:9.4px;font-size:7.2px;color:#111;font-weight:bold;"><span style="transform:scaleX(0.765)">خصوصی</span></div>
<div class="ct" style="left:285.0px;top:418.5px;width:300px;height:9.4px;line-height:9.4px;font-size:7.2px;color:#111;font-weight:bold;"><span style="transform:scaleX(0.765)">٪۳</span></div>
<div class="ct" style="left:265.8px;top:437.6px;width:300px;height:9.4px;line-height:9.4px;font-size:7.2px;color:#111;font-weight:bold;"><span style="transform:scaleX(0.765)">شرکت های باربری بین</span></div>
<div class="ct" style="left:265.8px;top:450.5px;width:300px;height:9.4px;line-height:9.4px;font-size:7.2px;color:#111;font-weight:bold;"><span style="transform:scaleX(0.765)">شهری</span></div>
<div class="ct" style="left:265.8px;top:463.1px;width:300px;height:9.4px;line-height:9.4px;font-size:7.2px;color:#111;font-weight:bold;"><span style="transform:scaleX(0.765)">٪۳</span></div>
<div class="ct" style="left:280.5px;top:479.3px;width:300px;height:9.4px;line-height:9.4px;font-size:7.2px;color:#111;font-weight:bold;"><span style="transform:scaleX(0.765)">شرکت های پیک</span></div>
<div class="ct" style="left:280.5px;top:491.9px;width:300px;height:9.4px;line-height:9.4px;font-size:7.2px;color:#111;font-weight:bold;"><span style="transform:scaleX(0.765)">خصوصی</span></div>
<div class="ct" style="left:280.5px;top:504.3px;width:300px;height:9.4px;line-height:9.4px;font-size:7.2px;color:#111;font-weight:bold;"><span style="transform:scaleX(0.765)">٪۳</span></div>
<svg class="ab" style="left:438.3px;top:422.2px" width="30.8" height="31.9" viewBox="438.3 422.2 30.8 31.9"><path d="M439.3 423.2L468.1 453.1" stroke="#bbb" stroke-width="0.6" fill="none"/></svg>
<svg class="ab" style="left:447.2px;top:441.9px" width="21.1" height="21.1" viewBox="447.2 441.9 21.1 21.1"><path d="M448.2 442.9L467.3 462.0" stroke="#bbb" stroke-width="0.6" fill="none"/></svg>
<svg class="ab" style="left:456.0px;top:477.1px" width="12.3" height="6.4" viewBox="456.0 477.1 12.3 6.4"><path d="M457.0 482.5L467.3 478.1" stroke="#bbb" stroke-width="0.6" fill="none"/></svg>
<div class="ab" style="left:671.2px;top:566.3px;width:12.1px;height:11.5px;background:#d1d3d4;"></div>
<div class="ab" style="left:674.9px;top:570.3px;width:12.8px;height:3.3px;background:#e2202c;"></div>
<div class="hh" style="left:267.7px;top:561.4px"><span style="transform:scaleX(0.5738)">بازار پررونق پست و باربری‌ها</span></div>
<div class="ln" style="right:503.8px;top:585.0px;width:422.7px;font-size:10.5px;color:#262626;transform:scaleX(0.7168)">حدود ۴۱.۵ درصد از کسب‌وکارهای آنلاین از بیش از یک روش ارسال و تحویل کالا بهره می‌برند</div>
<div class="ln" style="right:503.8px;top:601.7px;width:422.7px;font-size:10.5px;color:#262626;transform:scaleX(0.7168)">که نشان‌دهنده تنوع و انعطاف در خدمات‌رسانی است. پس از آن، شرکت ملی پست با ۲۹.۶ درصد،</div>
<div class="ln" style="right:503.8px;top:618.2px;width:422.7px;font-size:10.5px;color:#262626;transform:scaleX(0.7168)">شبکه توزیع کسب‌وکارها با ۱۹.۲ درصد و شرکت‌های پیک خصوصی، باربری بین‌شهری و پست</div>
<div class="ln ll" style="right:503.8px;top:634.4px;width:422.7px;font-size:10.5px;color:#262626;transform:scaleX(0.7168)">خصوصی هر کدام کمتر از ۴ درصد سهم دارند.</div>
<div class="hd" style="left:377.6px;top:658px;width:310.1px"></div>
<div class="pn" style="left:380.7px;top:667.2px;width:309.5px;height:202.8px"></div>
<div class="wm" style="left:333.0px;top:732.0px"><div class="wm1"><span style="transform:scaleX(0.899)">فرهیختگان</span></div><div class="wm2"><span style="transform:scaleX(1.572)">farhikhtegan</span></div></div>
<div class="ct" style="left:137.8px;top:669.6px;width:800px;height:10.1px;line-height:10.1px;font-size:7.2px;color:#111;font-weight:bold;font-family:'Liberation Sans','DejaVu Sans',sans-serif;"><span style="transform:scaleX(0.8229)">فرصت‌های شغلی برای فارغ‌التحصیلان دانشگاهی در کسب‌وکارها (درصد)</span></div>
<div class="ab" style="left:434.0px;top:689.7px;width:220.7px;height:28.0px;background:#22b294;"></div>
<div class="rt" style="left:30.5px;top:699.5px;width:400px;height:9.0px;line-height:9.0px;font-size:6.4px;color:#111;font-weight:bold;font-family:'Liberation Sans','DejaVu Sans',sans-serif;"><span style="transform:scaleX(0.7276);transform-origin:right center">کمتر از ۱۰ درصد</span></div>
<div class="lt" style="left:658.7px;top:696.2px;width:400px;height:13.0px;line-height:13.0px;font-size:10px;color:#111;font-weight:bold;font-family:'Liberation Sans','DejaVu Sans',sans-serif;"><span style="transform:scaleX(0.88);transform-origin:left center">۴۲/۵</span></div>
<div class="ab" style="left:434.0px;top:737.3px;width:137.0px;height:28.0px;background:#22b294;"></div>
<div class="rt" style="left:30.5px;top:747.1px;width:400px;height:9.0px;line-height:9.0px;font-size:6.4px;color:#111;font-weight:bold;font-family:'Liberation Sans','DejaVu Sans',sans-serif;"><span style="transform:scaleX(0.7889);transform-origin:right center">بین ۱۰ تا ۳۰ درصد</span></div>
<div class="lt" style="left:575.0px;top:743.8px;width:400px;height:13.0px;line-height:13.0px;font-size:10px;color:#111;font-weight:bold;font-family:'Liberation Sans','DejaVu Sans',sans-serif;"><span style="transform:scaleX(0.88);transform-origin:left center">۲۶/۴</span></div>
<div class="ab" style="left:434.0px;top:784.6px;width:73.8px;height:28.0px;background:#22b294;"></div>
<div class="rt" style="left:30.5px;top:794.4px;width:400px;height:9.0px;line-height:9.0px;font-size:6.4px;color:#111;font-weight:bold;font-family:'Liberation Sans','DejaVu Sans',sans-serif;"><span style="transform:scaleX(0.7889);transform-origin:right center">بین ۳۰ تا ۵۰ درصد</span></div>
<div class="lt" style="left:511.8px;top:791.1px;width:400px;height:13.0px;line-height:13.0px;font-size:10px;color:#111;font-weight:bold;font-family:'Liberation Sans','DejaVu Sans',sans-serif;"><span style="transform:scaleX(0.88);transform-origin:left center">۱۴/۲</span></div>
<div class="ab" style="left:434.0px;top:832.2px;width:87.6px;height:28.0px;background:#22b294;"></div>
<div class="rt" style="left:30.5px;top:842.0px;width:400px;height:9.0px;line-height:9.0px;font-size:6.4px;color:#111;font-weight:bold;font-family:'Liberation Sans','DejaVu Sans',sans-serif;"><span style="transform:scaleX(0.7657);transform-origin:right center">بیش از ۵۰ درصد</span></div>
<div class="lt" style="left:525.6px;top:838.7px;width:400px;height:13.0px;line-height:13.0px;font-size:10px;color:#111;font-weight:bold;font-family:'Liberation Sans','DejaVu Sans',sans-serif;"><span style="transform:scaleX(0.88);transform-origin:left center">۱۶/۹</span></div>
<div class="ab" style="left:671.2px;top:882.8px;width:12.1px;height:11.5px;background:#d1d3d4;"></div>
<div class="ab" style="left:674.9px;top:886.8px;width:12.8px;height:3.3px;background:#e2202c;"></div>
<div class="hh" style="left:267.7px;top:877.9px"><span style="transform:scaleX(0.6175)">سهم دانشگاهی‌ها در تجارت الکترونیک</span></div>
<div class="ln" style="right:503.8px;top:901.7px;width:390.2px;font-size:10.5px;color:#262626;transform:scaleX(0.7765)">بررسی‌ها نشان می‌دهد که در کسب‌وکارهای اینترنتی، فرصت‌های شغلی قابل توجهی برای</div>
<div class="ln" style="right:503.8px;top:917.9px;width:390.2px;font-size:10.5px;color:#262626;transform:scaleX(0.7765)">فارغ‌التحصیلان دانشگاهی وجود دارد؛ با این حال، تنها ۱۶.۹ درصد از این واحدها بیش از</div>
<div class="ln" style="right:503.8px;top:934.1px;width:390.2px;font-size:10.5px;color:#262626;transform:scaleX(0.7765)">۵۰ درصد نیروی انسانی خود را از میان فارغ‌التحصیلان دانشگاهی انتخاب می‌کنند. همچنین،</div>
<div class="ln" style="right:503.8px;top:950.2px;width:390.2px;font-size:10.5px;color:#262626;transform:scaleX(0.7765)">۱۴.۲ درصد کسب‌وکارها سهمی بین ۳۰ تا ۵۰ درصد و ۲۶.۴ درصد سهمی بین ۱۰ تا ۳۰</div>
<div class="ln" style="right:503.8px;top:966.4px;width:390.2px;font-size:10.5px;color:#262626;transform:scaleX(0.7765)">درصد از فارغ‌التحصیلان را در نیروی کار خود دارند. در مقابل، ۴۲.۵ درصد کسب‌وکارها کمتر</div>
<div class="ln" style="right:503.8px;top:982.6px;width:390.2px;font-size:10.5px;color:#262626;transform:scaleX(0.7765)">از ۱۰ درصد نیروی خود را از این گروه تأمین می‌کنند که نشان‌دهنده وجود چالش در جذب</div>
<div class="ln ll" style="right:503.8px;top:998.7px;width:390.2px;font-size:10.5px;color:#262626;transform:scaleX(0.7765)">نیروی تحصیل‌کرده است.</div>
<div class="hd" style="left:377.6px;top:1021px;width:310.1px"></div>
<div class="pn" style="left:377.6px;top:1036px;width:310.1px;height:204.5px"></div>
<div class="wm" style="left:333.0px;top:1103.0px"><div class="wm1"><span style="transform:scaleX(0.899)">فرهیختگان</span></div><div class="wm2"><span style="transform:scaleX(1.572)">farhikhtegan</span></div></div>
<div class="ct" style="left:133.4px;top:1041.1px;width:800px;height:12.3px;line-height:12.3px;font-size:8.8px;color:#111;font-weight:bold;font-family:'Liberation Sans','DejaVu Sans',sans-serif;"><span style="transform:scaleX(0.8346)">مدت فعالیت واحدهای تجارت الکترونیک</span></div>
<svg class="ab" style="left:451.4px;top:1054.0px" width="188.0" height="188.0" viewBox="451.4 1054.0 188.0 188.0"><path d="M545.4 1148.0L507.10 1064.35A92.0 92.0 0 0 1 600.25 1074.14Z" fill="#22b294" stroke="#fff" stroke-width="0.6"/><path d="M545.4 1148.0L600.25 1074.14A92.0 92.0 0 0 1 623.59 1099.52Z" fill="#fab31e" stroke="#fff" stroke-width="0.6"/><path d="M545.4 1148.0L623.59 1099.52A92.0 92.0 0 0 1 550.21 1239.87Z" fill="#0c2c47" stroke="#fff" stroke-width="0.6"/><path d="M545.4 1148.0L550.21 1239.87A92.0 92.0 0 0 1 507.10 1064.35Z" fill="#cf2040" stroke="#fff" stroke-width="0.6"/></svg>
<div class="ct" style="left:334.9px;top:1144.0px;width:300px;height:7.5px;line-height:7.5px;font-size:5.8px;color:#fff;font-weight:bold;"><span style="transform:scaleX(0.765)">بین ۱ تا ۴ سال</span></div>
<div class="ct" style="left:334.9px;top:1153.8px;width:300px;height:7.5px;line-height:7.5px;font-size:5.8px;color:#fff;font-weight:bold;"><span style="transform:scaleX(0.765)">٪۴۴</span></div>
<div class="ct" style="left:444.2px;top:1169.0px;width:300px;height:7.5px;line-height:7.5px;font-size:5.8px;color:#fff;font-weight:bold;"><span style="transform:scaleX(0.765)">کمتر از یکسال</span></div>
<div class="ct" style="left:444.2px;top:1178.8px;width:300px;height:7.5px;line-height:7.5px;font-size:5.8px;color:#fff;font-weight:bold;"><span style="transform:scaleX(0.765)">٪۳۳</span></div>
<div class="ct" style="left:411.3px;top:1078.8px;width:300px;height:7.5px;line-height:7.5px;font-size:5.8px;color:#fff;font-weight:bold;"><span style="transform:scaleX(0.765)">بین ۴ تا ۸ سال</span></div>
<div class="ct" style="left:411.3px;top:1088.8px;width:300px;height:7.5px;line-height:7.5px;font-size:5.8px;color:#fff;font-weight:bold;"><span style="transform:scaleX(0.765)">٪۱۷</span></div>
<div class="ct" style="left:496.5px;top:1064.8px;width:300px;height:7.5px;line-height:7.5px;font-size:5.8px;color:#111;font-weight:bold;"><span style="transform:scaleX(0.765)">بیش از ۸ سال</span></div>
<div class="ct" style="left:496.5px;top:1074.5px;width:300px;height:7.5px;line-height:7.5px;font-size:5.8px;color:#111;font-weight:bold;"><span style="transform:scaleX(0.765)">٪۶</span></div>
<svg class="ab" style="left:611.7px;top:1071.9px" width="21.1" height="16.7" viewBox="611.7 1071.9 21.1 16.7"><path d="M631.8 1072.9L612.7 1087.6" stroke="#bbb" stroke-width="0.6" fill="none"/></svg>
<div class="ab" style="left:671.2px;top:1246.3px;width:12.1px;height:11.5px;background:#d1d3d4;"></div>
<div class="ab" style="left:674.9px;top:1250.3px;width:12.8px;height:3.3px;background:#e2202c;"></div>
<div class="hh" style="left:267.7px;top:1241.4px"><span style="transform:scaleX(0.5562)">سابقه کار</span></div>
<div class="ln" style="right:503.8px;top:1265.0px;width:424.4px;font-size:10.5px;color:#262626;transform:scaleX(0.7140)">حدود ۴۴ درصد از کسب و کارها بین یک تا چهار سال سابقه فعالیت دارند که نشان‌دهنده نوپایی</div>
<div class="ln" style="right:503.8px;top:1281.2px;width:424.4px;font-size:10.5px;color:#262626;transform:scaleX(0.7140)">و رشد سریع این بخش است. ۳۳ درصد از کسب‌وکارها کمتر از یک سال و ۱۷ درصد بین ۴ تا ۸</div>
<div class="ln" style="right:503.8px;top:1297.3px;width:424.4px;font-size:10.5px;color:#262626;transform:scaleX(0.7140)">سال فعالیت می‌کنند. تنها ۶ درصد از واحدها سابقه‌ای بیش از هشت سال دارند که نمایانگر تازه‌وارد</div>
<div class="ln ll" style="right:503.8px;top:1313.5px;width:424.4px;font-size:10.5px;color:#262626;transform:scaleX(0.7140)">بودن بیشتر بازیگران این بازار است.</div>
<div class="hd" style="left:377.6px;top:1338.8px;width:310.1px"></div>
<div class="pn" style="left:377.6px;top:1349px;width:310.1px;height:203px"></div>
<div class="wm" style="left:333.0px;top:1415.0px"><div class="wm1"><span style="transform:scaleX(0.899)">فرهیختگان</span></div><div class="wm2"><span style="transform:scaleX(1.572)">farhikhtegan</span></div></div>
<div class="ct" style="left:132.8px;top:1355.0px;width:800px;height:12.3px;line-height:12.3px;font-size:8.8px;color:#111;font-weight:bold;font-family:'Liberation Sans','DejaVu Sans',sans-serif;"><span style="transform:scaleX(0.8263)">گروه سنی صاحبان واحدهای تجارت الکترونیک دارای اینماد</span></div>
<svg class="ab" style="left:429.9px;top:1368.8px" width="185.2" height="185.2" viewBox="429.9 1368.8 185.2 185.2"><path d="M522.5 1461.4L463.06 1393.02A90.6 90.6 0 0 1 582.89 1393.86Z" fill="#fab31e" stroke="#fff" stroke-width="0.6"/><path d="M522.5 1461.4L582.89 1393.86A90.6 90.6 0 0 1 611.05 1442.25Z" fill="#cf2040" stroke="#fff" stroke-width="0.6"/><path d="M522.5 1461.4L611.05 1442.25A90.6 90.6 0 0 1 612.08 1447.85Z" fill="#0c2c47" stroke="#fff" stroke-width="0.6"/><path d="M522.5 1461.4L612.08 1447.85A90.6 90.6 0 0 1 541.65 1549.95Z" fill="#22b294" stroke="#fff" stroke-width="0.6"/><path d="M522.5 1461.4L541.65 1549.95A90.6 90.6 0 0 1 463.06 1393.02Z" fill="#5353a3" stroke="#fff" stroke-width="0.6"/></svg>
<div class="ct" style="left:371.6px;top:1380.8px;width:300px;height:9.4px;line-height:9.4px;font-size:7.2px;color:#111;font-weight:bold;"><span style="transform:scaleX(0.765)">۴۰ تا ۵۰ سال</span></div>
<div class="ct" style="left:371.6px;top:1393.2px;width:300px;height:9.4px;line-height:9.4px;font-size:7.2px;color:#111;font-weight:bold;"><span style="transform:scaleX(0.765)">٪۲۳</span></div>
<div class="ct" style="left:435.7px;top:1422.6px;width:300px;height:9.4px;line-height:9.4px;font-size:7.2px;color:#111;font-weight:bold;"><span style="transform:scaleX(0.765)">بالای ۵۰ سال</span></div>
<div class="ct" style="left:435.7px;top:1435.2px;width:300px;height:9.4px;line-height:9.4px;font-size:7.2px;color:#111;font-weight:bold;"><span style="transform:scaleX(0.765)">٪۱۰</span></div>
<div class="ct" style="left:503.3px;top:1433.7px;width:300px;height:9.4px;line-height:9.4px;font-size:7.2px;color:#111;font-weight:bold;"><span style="transform:scaleX(0.765)">زیر ۲۰ سال</span></div>
<div class="ct" style="left:503.3px;top:1446.3px;width:300px;height:9.4px;line-height:9.4px;font-size:7.2px;color:#111;font-weight:bold;"><span style="transform:scaleX(0.765)">٪۱</span></div>
<div class="ct" style="left:428.0px;top:1490.2px;width:300px;height:9.4px;line-height:9.4px;font-size:7.2px;color:#111;font-weight:bold;"><span style="transform:scaleX(0.765)">۲۰ تا ۳۰ سال</span></div>
<div class="ct" style="left:428.0px;top:1502.8px;width:300px;height:9.4px;line-height:9.4px;font-size:7.2px;color:#111;font-weight:bold;"><span style="transform:scaleX(0.765)">٪۲۴</span></div>
<div class="ct" style="left:308.4px;top:1484.3px;width:300px;height:9.4px;line-height:9.4px;font-size:7.2px;color:#111;font-weight:bold;"><span style="transform:scaleX(0.765)">۳۰ تا ۴۰ سال</span></div>
<div class="ct" style="left:308.4px;top:1496.9px;width:300px;height:9.4px;line-height:9.4px;font-size:7.2px;color:#111;font-weight:bold;"><span style="transform:scaleX(0.765)">٪۴۲</span></div>
<svg class="ab" style="left:611.7px;top:1440.4px" width="25.5" height="9.9" viewBox="611.7 1440.4 25.5 9.9"><path d="M636.2 1441.4L612.7 1449.3" stroke="#bbb" stroke-width="0.6" fill="none"/></svg>
<div class="ab" style="left:671.2px;top:1561.1px;width:12.1px;height:11.5px;background:#d1d3d4;"></div>
<div class="ab" style="left:674.9px;top:1565.1px;width:12.8px;height:3.3px;background:#e2202c;"></div>
<div class="hh" style="left:267.7px;top:1556.2px"><span style="transform:scaleX(0.6002)">سهم جوانان از درآمد</span></div>
<div class="ln" style="right:503.8px;top:1578.5px;width:420.8px;font-size:10.5px;color:#262626;transform:scaleX(0.7201)">بیشترین سهم صاحبان واحدهای تجارت الکترونیک دارای اینماد مربوط به گروه سنی ۳۰ تا ۴۰</div>
<div class="ln" style="right:503.8px;top:1594.7px;width:420.8px;font-size:10.5px;color:#262626;transform:scaleX(0.7201)">سال با ۴۱.۷ درصد است، که نشان‌دهنده نقش فعال جوانان و میانسالان در این حوزه است. پس از</div>
<div class="ln" style="right:503.8px;top:1610.9px;width:420.8px;font-size:10.5px;color:#262626;transform:scaleX(0.7201)">آن، گروه‌های سنی ۲۰ تا ۳۰ سال و ۴۰ تا ۵۰ سال به ترتیب با ۲۳.۷ درصد و ۲۳.۲ درصد حضور</div>
<div class="ln" style="right:503.8px;top:1627.0px;width:420.8px;font-size:10.5px;color:#262626;transform:scaleX(0.7201)">چشمگیری دارند. همچنین، تنها ۱ درصد از صاحبان کسب‌وکارهای اینترنتی زیر ۲۰ سال و ۱۰.۴</div>
<div class="ln ll" style="right:503.8px;top:1643.2px;width:420.8px;font-size:10.5px;color:#262626;transform:scaleX(0.7201)">درصد بالای ۵۰ سال هستند.</div>
<div class="pn" style="left:42.1px;top:43px;width:310.5px;height:204px"></div>
<div class="wm" style="left:-3.0px;top:110.0px"><div class="wm1"><span style="transform:scaleX(0.899)">فرهیختگان</span></div><div class="wm2"><span style="transform:scaleX(1.572)">farhikhtegan</span></div></div>
<div class="ct" style="left:-202.1px;top:48.6px;width:800px;height:12.3px;line-height:12.3px;font-size:8.8px;color:#111;font-weight:bold;font-family:'Liberation Sans','DejaVu Sans',sans-serif;"><span style="transform:scaleX(0.8097)">سهم گروه‌های سنی مختلف در خرید</span></div>
<svg class="ab" style="left:122.1px;top:76.2px" width="156.0" height="156.0" viewBox="122.1 76.2 156.0 156.0"><path d="M200.1 154.2L265.85 116.09A76.0 76.0 0 0 1 134.35 192.31Z" fill="#cf2040" stroke="#fff" stroke-width="0.6"/><path d="M200.1 154.2L134.35 192.31A76.0 76.0 0 0 1 254.31 100.93Z" fill="#22b294" stroke="#fff" stroke-width="0.6"/><path d="M200.1 154.2L254.31 100.93A76.0 76.0 0 0 1 263.33 112.03Z" fill="#fab31e" stroke="#fff" stroke-width="0.6"/><path d="M200.1 154.2L263.33 112.03A76.0 76.0 0 0 1 265.85 116.09Z" fill="#5553a6" stroke="#fff" stroke-width="0.6"/></svg>
<div class="ct" style="left:25.6px;top:104.6px;width:300px;height:9.6px;line-height:9.6px;font-size:7.4px;color:#fff;font-weight:bold;"><span style="transform:scaleX(0.765)">میانسالان</span></div>
<div class="ct" style="left:25.6px;top:118.0px;width:300px;height:9.6px;line-height:9.6px;font-size:7.4px;color:#fff;font-weight:bold;"><span style="transform:scaleX(0.765)">٪۴۶</span></div>
<div class="ct" style="left:75.0px;top:178.5px;width:300px;height:9.6px;line-height:9.6px;font-size:7.4px;color:#fff;font-weight:bold;"><span style="transform:scaleX(0.765)">جوانان</span></div>
<div class="ct" style="left:75.0px;top:192.2px;width:300px;height:9.6px;line-height:9.6px;font-size:7.4px;color:#fff;font-weight:bold;"><span style="transform:scaleX(0.765)">٪۵۰</span></div>
<div class="ct" style="left:127.8px;top:72.3px;width:300px;height:9.6px;line-height:9.6px;font-size:7.4px;color:#111;font-weight:bold;"><span style="transform:scaleX(0.765)">کودکان و نوجوانان</span></div>
<div class="ct" style="left:127.8px;top:86.0px;width:300px;height:9.6px;line-height:9.6px;font-size:7.4px;color:#111;font-weight:bold;"><span style="transform:scaleX(0.765)">٪۳</span></div>
<div class="ct" style="left:139.8px;top:105.7px;width:300px;height:9.6px;line-height:9.6px;font-size:7.4px;color:#111;font-weight:bold;"><span style="transform:scaleX(0.765)">سالمندان</span></div>
<div class="ct" style="left:139.8px;top:119.4px;width:300px;height:9.6px;line-height:9.6px;font-size:7.4px;color:#111;font-weight:bold;"><span style="transform:scaleX(0.765)">٪۱</span></div>
<svg class="ab" style="left:256.0px;top:94.7px" width="16.2" height="11.1" viewBox="256.0 94.7 16.2 11.1"><path d="M271.2 95.7L257.0 104.8" stroke="#bbb" stroke-width="0.6" fill="none"/></svg>
<svg class="ab" style="left:261.7px;top:111.8px" width="16.3" height="4.2" viewBox="261.7 111.8 16.3 4.2"><path d="M277.0 112.8L262.7 115.0" stroke="#bbb" stroke-width="0.6" fill="none"/></svg>
<div class="ab" style="left:336.1px;top:256.0px;width:12.1px;height:11.5px;background:#d1d3d4;"></div>
<div class="ab" style="left:339.8px;top:260.0px;width:12.8px;height:3.3px;background:#e2202c;"></div>
<div class="hh" style="left:-67.4px;top:251.1px"><span style="transform:scaleX(0.6035)">سهم جوانان از خرید</span></div>
<div class="ln" style="right:838.9px;top:274.3px;width:420.4px;font-size:10.5px;color:#262626;transform:scaleX(0.7208)">بررسی‌ها نشان می‌دهد که جوانان با سهم ۵۰ درصدی، بیشترین نقش را در خریدهای اینترنتی ایفا</div>
<div class="ln" style="right:838.9px;top:290.2px;width:420.4px;font-size:10.5px;color:#262626;transform:scaleX(0.7208)">می‌کنند و پس از آن، میانسالان با ۴۶ درصد قرار دارند. کودکان و نوجوانان تنها ۳ درصد و سالمندان</div>
<div class="ln" style="right:838.9px;top:306.3px;width:420.4px;font-size:10.5px;color:#262626;transform:scaleX(0.7208)">کمترین سهم، یعنی ۱ درصد از خریدهای آنلاین را به خود اختصاص داده‌اند. این آمار بیانگر تمرکز</div>
<div class="ln ll" style="right:838.9px;top:322.2px;width:420.4px;font-size:10.5px;color:#262626;transform:scaleX(0.7208)">عمده بازار تجارت الکترونیک روی گروه‌های جوان و میانسال است.</div>
<div class="hd" style="left:42.1px;top:351px;width:310.5px"></div>
<div class="pn" style="left:42.1px;top:367.7px;width:310.5px;height:210px"></div>
<div class="wm" style="left:-3.0px;top:437.0px"><div class="wm1"><span style="transform:scaleX(0.899)">فرهیختگان</span></div><div class="wm2"><span style="transform:scaleX(1.572)">farhikhtegan</span></div></div>
<div class="ct" style="left:-201.6px;top:372.4px;width:800px;height:12.3px;line-height:12.3px;font-size:8.8px;color:#111;font-weight:bold;font-family:'Liberation Sans','DejaVu Sans',sans-serif;"><span style="transform:scaleX(0.8631)">جنسیت صاحبان واحدهای تجارت الکترونیک (درصد)</span></div>
<svg class="ab" style="left:117.1px;top:390.3px" width="183.2" height="183.2" viewBox="117.1 390.3 183.2 183.2"><path d="M208.7 481.9L208.70 392.30A89.6 89.6 0 0 1 296.71 465.11Z" fill="#cf2040" stroke="#fff" stroke-width="0.6"/><path d="M208.7 481.9L296.71 465.11A89.6 89.6 0 1 1 208.70 392.30Z" fill="#22b294" stroke="#fff" stroke-width="0.6"/></svg>
<div class="ct" style="left:95.5px;top:412.9px;width:300px;height:12.3px;line-height:12.3px;font-size:9.5px;color:#111;font-weight:bold;"><span style="transform:scaleX(0.792)">زن</span></div>
<div class="ct" style="left:95.5px;top:428.9px;width:300px;height:12.3px;line-height:12.3px;font-size:9.5px;color:#111;font-weight:bold;"><span style="transform:scaleX(0.792)">٪۲۲</span></div>
<div class="ct" style="left:19.0px;top:522.2px;width:300px;height:12.3px;line-height:12.3px;font-size:9.5px;color:#111;font-weight:bold;"><span style="transform:scaleX(0.792)">مرد</span></div>
<div class="ct" style="left:19.0px;top:540.9px;width:300px;height:12.3px;line-height:12.3px;font-size:9.5px;color:#111;font-weight:bold;"><span style="transform:scaleX(0.792)">٪۷۸</span></div>
<div class="ab" style="left:336.1px;top:586.3px;width:12.1px;height:11.5px;background:#d1d3d4;"></div>
<div class="ab" style="left:339.8px;top:590.3px;width:12.8px;height:3.3px;background:#e2202c;"></div>
<div class="hh" style="left:-67.4px;top:581.4px"><span style="transform:scaleX(0.5853)">سهم ۲۲ درصدی زنان از کسب و کار</span></div>
<div class="ln" style="right:838.9px;top:604.3px;width:420.4px;font-size:10.5px;color:#262626;transform:scaleX(0.7208)">در میان صاحبان واحدهای تجارت الکترونیک، ۷۸ درصد مردان و تنها ۲۲ درصد زنان حضور</div>
<div class="ln" style="right:838.9px;top:620.3px;width:420.4px;font-size:10.5px;color:#262626;transform:scaleX(0.7208)">دارند، که نشان‌دهنده تسلط بیشتر مردان بر مالکیت کسب‌وکارهای آنلاین است. در حوزه خریدهای</div>
<div class="ln" style="right:838.9px;top:636.6px;width:420.4px;font-size:10.5px;color:#262626;transform:scaleX(0.7208)">تجارت الکترونیک، بیش از دوسوم یعنی ۶۸.۹ درصد از خریدها به صورت مشترک توسط هر</div>
<div class="ln" style="right:838.9px;top:652.9px;width:420.4px;font-size:10.5px;color:#262626;transform:scaleX(0.7208)">دو جنس انجام می‌شود. سهم مردان در خریدها ۲۰.۶ درصد و سهم زنان ۱۰.۵ درصد است،</div>
<div class="ln ll" style="right:838.9px;top:669.1px;width:420.4px;font-size:10.5px;color:#262626;transform:scaleX(0.7208)">که نشان‌دهنده مشارکت قابل توجه مردان و زنان در بازار خرید آنلاین است.</div>
<div class="hd" style="left:42.1px;top:696.5px;width:310.5px"></div>
<div class="ct" style="left:-203.5px;top:714.0px;width:800px;height:11.9px;line-height:11.9px;font-size:8.5px;color:#222;font-weight:normal;font-family:'Liberation Sans','DejaVu Sans',sans-serif;"><span style="transform:scaleX(0.8836)">زیرگروه‌ها و درصد انتخاب هر کدام توسط کسب‌وکارها در گروه خدمات آموزشی، فرهنگی و هنری</span></div>
<div class="ab" style="left:43.4px;top:731.4px;width:200.2px;height:184.1px;background:#2f7ec5;border-radius:1.5px;"></div>
<div class="ab" style="left:246.0px;top:732.0px;width:51.3px;height:98.0px;background:#e8583f;border-radius:1.5px;"></div>
<div class="ab" style="left:299.6px;top:732.0px;width:48.0px;height:98.0px;background:#eb9b35;border-radius:1.5px;"></div>
<div class="ab" style="left:245.0px;top:831.6px;width:55.0px;height:38.4px;background:#dfe0e1;border-radius:1.5px;"></div>
<div class="ab" style="left:302.0px;top:832.8px;width:23.4px;height:32.2px;background:#5badE6;border-radius:1.5px;"></div>
<div class="ab" style="left:328.3px;top:832.8px;width:19.3px;height:32.2px;background:#5a58b4;border-radius:1.5px;"></div>
<div class="ab" style="left:245.7px;top:871.0px;width:28.1px;height:44.4px;background:#8fc2e9;border-radius:1.5px;"></div>
<div class="ab" style="left:276.0px;top:871.0px;width:23.6px;height:44.4px;background:#c1e159;border-radius:1.5px;"></div>
<div class="ab" style="left:302.0px;top:867.0px;width:22.9px;height:25.4px;background:#e95fb6;border-radius:1.5px;"></div>
<div class="ab" style="left:327.4px;top:867.0px;width:20.2px;height:25.4px;background:#1cacaa;border-radius:1.5px;"></div>
<div class="ab" style="left:302.5px;top:895.0px;width:21.8px;height:19.8px;background:#f5e85a;border-radius:1.5px;"></div>
<div class="ab" style="left:326.0px;top:895.0px;width:21.6px;height:19.8px;background:#7ccb50;border-radius:1.5px;"></div>
<div class="ct" style="left:-5.5px;top:797.4px;width:300px;height:18.2px;line-height:18.2px;font-size:14px;color:#111;font-weight:normal;"><span style="transform:scaleX(0.81)">فروش کالا</span></div>
<div class="ct" style="left:-6.5px;top:820.4px;width:300px;height:14.3px;line-height:14.3px;font-size:11px;color:#111;font-weight:normal;"><span style="transform:scaleX(0.81)">٪۶۶/۱</span></div>
<div class="ct" style="left:121.6px;top:772.2px;width:300px;height:6.5px;line-height:6.5px;font-size:5px;color:#5a241a;font-weight:normal;"><span style="transform:scaleX(0.765)">خدمات آموزشی،</span></div>
<div class="ct" style="left:121.6px;top:781.8px;width:300px;height:6.5px;line-height:6.5px;font-size:5px;color:#5a241a;font-weight:normal;"><span style="transform:scaleX(0.765)">فرهنگی و هنری</span></div>
<div class="ct" style="left:121.6px;top:790.8px;width:300px;height:6.5px;line-height:6.5px;font-size:5px;color:#5a241a;font-weight:normal;"><span style="transform:scaleX(0.765)">٪۹/۶</span></div>
<div class="ct" style="left:174.0px;top:767.2px;width:300px;height:7.5px;line-height:7.5px;font-size:5.8px;color:#3a2a10;font-weight:normal;"><span style="transform:scaleX(0.765)">خدمات فناوری</span></div>
<div class="ct" style="left:174.0px;top:778.2px;width:300px;height:7.5px;line-height:7.5px;font-size:5.8px;color:#3a2a10;font-weight:normal;"><span style="transform:scaleX(0.765)">اطلاعات، ارتباطات</span></div>
<div class="ct" style="left:174.0px;top:788.8px;width:300px;height:7.5px;line-height:7.5px;font-size:5.8px;color:#3a2a10;font-weight:normal;"><span style="transform:scaleX(0.765)">و اطلاع‌رسانی</span></div>
<div class="ct" style="left:174.0px;top:798.2px;width:300px;height:7.5px;line-height:7.5px;font-size:5.8px;color:#3a2a10;font-weight:normal;"><span style="transform:scaleX(0.765)">٪۸/۸</span></div>
<div class="ct" style="left:122.5px;top:838.8px;width:300px;height:7.5px;line-height:7.5px;font-size:5.8px;color:#222;font-weight:normal;"><span style="transform:scaleX(0.765)">خدمات پشتیبانی و</span></div>
<div class="ct" style="left:122.5px;top:848.8px;width:300px;height:7.5px;line-height:7.5px;font-size:5.8px;color:#222;font-weight:normal;"><span style="transform:scaleX(0.765)">توسعه کسب‌وکار</span></div>
<div class="ct" style="left:122.5px;top:858.2px;width:300px;height:7.5px;line-height:7.5px;font-size:5.8px;color:#222;font-weight:normal;"><span style="transform:scaleX(0.765)">٪۳/۸</span></div>
<div class="ct" style="left:163.7px;top:836.8px;width:300px;height:4.4px;line-height:4.4px;font-size:3.4px;color:#1f4a6b;font-weight:normal;"><span style="transform:scaleX(0.765)">خدمات ساخت</span></div>
<div class="ct" style="left:163.7px;top:841.8px;width:300px;height:4.4px;line-height:4.4px;font-size:3.4px;color:#1f4a6b;font-weight:normal;"><span style="transform:scaleX(0.765)">و ساز</span></div>
<div class="ct" style="left:163.7px;top:846.8px;width:300px;height:4.4px;line-height:4.4px;font-size:3.4px;color:#1f4a6b;font-weight:normal;"><span style="transform:scaleX(0.765)"></span></div>
<div class="ct" style="left:163.7px;top:855.8px;width:300px;height:4.4px;line-height:4.4px;font-size:3.4px;color:#1f4a6b;font-weight:normal;"><span style="transform:scaleX(0.765)">٪۲/۵</span></div>
<div class="ct" style="left:188.0px;top:836.8px;width:300px;height:4.4px;line-height:4.4px;font-size:3.4px;color:#26245a;font-weight:normal;"><span style="transform:scaleX(0.765)">خدمات عمومی،</span></div>
<div class="ct" style="left:188.0px;top:841.8px;width:300px;height:4.4px;line-height:4.4px;font-size:3.4px;color:#26245a;font-weight:normal;"><span style="transform:scaleX(0.765)">تشکلی و</span></div>
<div class="ct" style="left:188.0px;top:846.8px;width:300px;height:4.4px;line-height:4.4px;font-size:3.4px;color:#26245a;font-weight:normal;"><span style="transform:scaleX(0.765)">سازمانی</span></div>
<div class="ct" style="left:188.0px;top:851.8px;width:300px;height:4.4px;line-height:4.4px;font-size:3.4px;color:#26245a;font-weight:normal;"><span style="transform:scaleX(0.765)">٪۲/۱</span></div>
<div class="ct" style="left:109.7px;top:877.8px;width:300px;height:4.4px;line-height:4.4px;font-size:3.4px;color:#2c5878;font-weight:normal;"><span style="transform:scaleX(0.765)">خدمات</span></div>
<div class="ct" style="left:109.7px;top:883.3px;width:300px;height:4.4px;line-height:4.4px;font-size:3.4px;color:#2c5878;font-weight:normal;"><span style="transform:scaleX(0.765)">کشاورزی و</span></div>
<div class="ct" style="left:109.7px;top:888.8px;width:300px;height:4.4px;line-height:4.4px;font-size:3.4px;color:#2c5878;font-weight:normal;"><span style="transform:scaleX(0.765)">دامپروری</span></div>
<div class="ct" style="left:109.7px;top:894.3px;width:300px;height:4.4px;line-height:4.4px;font-size:3.4px;color:#2c5878;font-weight:normal;"><span style="transform:scaleX(0.765)"></span></div>
<div class="ct" style="left:109.7px;top:900.8px;width:300px;height:4.4px;line-height:4.4px;font-size:3.4px;color:#2c5878;font-weight:normal;"><span style="transform:scaleX(0.765)">٪۱/۶</span></div>
<div class="ct" style="left:137.8px;top:881.8px;width:300px;height:4.4px;line-height:4.4px;font-size:3.4px;color:#5c6f1c;font-weight:normal;"><span style="transform:scaleX(0.765)">خدمات پولی،</span></div>
<div class="ct" style="left:137.8px;top:887.3px;width:300px;height:4.4px;line-height:4.4px;font-size:3.4px;color:#5c6f1c;font-weight:normal;"><span style="transform:scaleX(0.765)">مالی و مشاوره</span></div>
<div class="ct" style="left:137.8px;top:892.8px;width:300px;height:4.4px;line-height:4.4px;font-size:3.4px;color:#5c6f1c;font-weight:normal;"><span style="transform:scaleX(0.765)">املاک</span></div>
<div class="ct" style="left:137.8px;top:899.8px;width:300px;height:4.4px;line-height:4.4px;font-size:3.4px;color:#5c6f1c;font-weight:normal;"><span style="transform:scaleX(0.765)">٪۱/۳</span></div>
<div class="ct" style="left:163.5px;top:870.8px;width:300px;height:4.4px;line-height:4.4px;font-size:3.4px;color:#6b1f4f;font-weight:normal;"><span style="transform:scaleX(0.765)">خدمات سلامت</span></div>
<div class="ct" style="left:163.5px;top:875.8px;width:300px;height:4.4px;line-height:4.4px;font-size:3.4px;color:#6b1f4f;font-weight:normal;"><span style="transform:scaleX(0.765)">و پزشکی</span></div>
<div class="ct" style="left:163.5px;top:880.8px;width:300px;height:4.4px;line-height:4.4px;font-size:3.4px;color:#6b1f4f;font-weight:normal;"><span style="transform:scaleX(0.765)"></span></div>
<div class="ct" style="left:163.5px;top:886.3px;width:300px;height:4.4px;line-height:4.4px;font-size:3.4px;color:#6b1f4f;font-weight:normal;"><span style="transform:scaleX(0.765)">٪۱/۲</span></div>
<div class="ct" style="left:187.5px;top:870.8px;width:300px;height:4.4px;line-height:4.4px;font-size:3.4px;color:#0b4f4e;font-weight:normal;"><span style="transform:scaleX(0.765)">خدمات گردشگری</span></div>
<div class="ct" style="left:187.5px;top:875.8px;width:300px;height:4.4px;line-height:4.4px;font-size:3.4px;color:#0b4f4e;font-weight:normal;"><span style="transform:scaleX(0.765)">و سفر</span></div>
<div class="ct" style="left:187.5px;top:880.8px;width:300px;height:4.4px;line-height:4.4px;font-size:3.4px;color:#0b4f4e;font-weight:normal;"><span style="transform:scaleX(0.765)"></span></div>
<div class="ct" style="left:187.5px;top:886.3px;width:300px;height:4.4px;line-height:4.4px;font-size:3.4px;color:#0b4f4e;font-weight:normal;"><span style="transform:scaleX(0.765)">٪۱</span></div>
<div class="ct" style="left:163.4px;top:897.0px;width:300px;height:4.0px;line-height:4.0px;font-size:3.1px;color:#6b621a;font-weight:normal;"><span style="transform:scaleX(0.765)">خدمات حمل‌ونقل</span></div>
<div class="ct" style="left:163.4px;top:901.5px;width:300px;height:4.0px;line-height:4.0px;font-size:3.1px;color:#6b621a;font-weight:normal;"><span style="transform:scaleX(0.765)">و پست</span></div>
<div class="ct" style="left:163.4px;top:906.0px;width:300px;height:4.0px;line-height:4.0px;font-size:3.1px;color:#6b621a;font-weight:normal;"><span style="transform:scaleX(0.765)"></span></div>
<div class="ct" style="left:163.4px;top:910.0px;width:300px;height:4.0px;line-height:4.0px;font-size:3.1px;color:#6b621a;font-weight:normal;"><span style="transform:scaleX(0.765)">٪۰/۸</span></div>
<div class="ct" style="left:186.8px;top:898.0px;width:300px;height:4.0px;line-height:4.0px;font-size:3.1px;color:#2c5a18;font-weight:normal;"><span style="transform:scaleX(0.765)">خدمات حقوقی</span></div>
<div class="ct" style="left:186.8px;top:903.0px;width:300px;height:4.0px;line-height:4.0px;font-size:3.1px;color:#2c5a18;font-weight:normal;"><span style="transform:scaleX(0.765)">و قضایی</span></div>
<div class="ct" style="left:186.8px;top:908.0px;width:300px;height:4.0px;line-height:4.0px;font-size:3.1px;color:#2c5a18;font-weight:normal;"><span style="transform:scaleX(0.765)">٪۰/۵</span></div>
<div class="ab" style="left:336.1px;top:921.9px;width:12.1px;height:11.5px;background:#d1d3d4;"></div>
<div class="ab" style="left:339.8px;top:925.9px;width:12.8px;height:3.3px;background:#e2202c;"></div>
<div class="hh" style="left:-67.4px;top:917.0px"><span style="transform:scaleX(0.5856)">آموزش در رتبه دوم پس از کالا</span></div>
<div class="ln" style="right:838.9px;top:938.7px;width:392.4px;font-size:10.5px;color:#262626;transform:scaleX(0.7721)">بررسی حوزه فعالیت واحدهای تجارت الکترونیکی نشان می‌دهد فروش کالا با سهم ۶۶.۱</div>
<div class="ln" style="right:838.9px;top:956.3px;width:392.4px;font-size:10.5px;color:#262626;transform:scaleX(0.7721)">درصد بیشترین اینماد را به خود اختصاص داده است. پس از آن، خدمات آموزشی، فرهنگی و</div>
<div class="ln" style="right:838.9px;top:972.9px;width:392.4px;font-size:10.5px;color:#262626;transform:scaleX(0.7721)">هنری با ۹.۶ درصد بیشترین سهم را دارد. خدمات فناوری اطلاعات، ارتباطات و اطلاع‌رسانی</div>
<div class="ln" style="right:838.9px;top:989.4px;width:392.4px;font-size:10.5px;color:#262626;transform:scaleX(0.7721)">با ۸.۸ درصد، و خدمات پشتیبانی و توسعه کسب‌وکار با ۳.۸ درصد در رتبه‌های بعدی قرار</div>
<div class="ln" style="right:838.9px;top:1005.7px;width:392.4px;font-size:10.5px;color:#262626;transform:scaleX(0.7721)">دارند. همچنین، خدمات ساخت و ساز ۲.۵ درصد، خدمات عمومی، تشکلی و سازمانی ۲.۱</div>
<div class="ln" style="right:838.9px;top:1021.4px;width:392.4px;font-size:10.5px;color:#262626;transform:scaleX(0.7721)">درصد، خدمات کشاورزی و دامپروری ۱.۶ درصد و خدمات پولی، مالی و مشاوره املاک ۱.۳</div>
<div class="ln" style="right:838.9px;top:1037.1px;width:392.4px;font-size:10.5px;color:#262626;transform:scaleX(0.7721)">درصد سهم بازار را به خود اختصاص داده‌اند. در مجموع سهم فروش کالا ۶۶ درصد، سهم</div>
<div class="ln ll" style="right:838.9px;top:1052.8px;width:392.4px;font-size:10.5px;color:#262626;transform:scaleX(0.7721)">خدمات ۳۲ و ۲ درصد مابقی نیز مربوط به هر دو بخش است.</div>
<div class="hd" style="left:42.1px;top:1080px;width:310.5px"></div>
<div class="pn" style="left:42.1px;top:1088.5px;width:310.5px;height:207px"></div>
<div class="wm" style="left:-3.0px;top:1155.0px"><div class="wm1"><span style="transform:scaleX(0.899)">فرهیختگان</span></div><div class="wm2"><span style="transform:scaleX(1.572)">farhikhtegan</span></div></div>
<div class="ct" style="left:-199.6px;top:1092.8px;width:800px;height:12.3px;line-height:12.3px;font-size:8.8px;color:#111;font-weight:bold;font-family:'Liberation Sans','DejaVu Sans',sans-serif;"><span style="transform:scaleX(0.7926)">سهم عرضه کالاهای ایرانی در فروشگاه‌های اینترنتی</span></div>
<div class="ab" style="left:111.6px;top:1110.0px;width:0.6px;height:176.0px;background:#d9dde0;"></div>
<div class="ab" style="left:112.0px;top:1114.2px;width:211.2px;height:28.3px;background:#cf2040;"></div>
<div class="rt" style="left:-295.5px;top:1123.2px;width:400px;height:10.6px;line-height:10.6px;font-size:7.6px;color:#111;font-weight:bold;font-family:'Liberation Sans','DejaVu Sans',sans-serif;"><span style="transform:scaleX(0.7928);transform-origin:right center">بیش از ۷۰ درصد</span></div>
<div class="lt" style="left:326.7px;top:1120.9px;width:400px;height:13.7px;line-height:13.7px;font-size:10.5px;color:#111;font-weight:bold;font-family:'Liberation Sans','DejaVu Sans',sans-serif;"><span style="transform:scaleX(0.88);transform-origin:left center">۵۶/۲</span></div>
<div class="ab" style="left:112.0px;top:1161.3px;width:64.2px;height:28.3px;background:#cf2040;"></div>
<div class="rt" style="left:-295.5px;top:1170.3px;width:400px;height:10.6px;line-height:10.6px;font-size:7.6px;color:#111;font-weight:bold;font-family:'Liberation Sans','DejaVu Sans',sans-serif;"><span style="transform:scaleX(0.8197);transform-origin:right center">بین ۴۰ تا ۷۰ درصد</span></div>
<div class="lt" style="left:179.7px;top:1168.0px;width:400px;height:13.7px;line-height:13.7px;font-size:10.5px;color:#111;font-weight:bold;font-family:'Liberation Sans','DejaVu Sans',sans-serif;"><span style="transform:scaleX(0.88);transform-origin:left center">۱۷/۲</span></div>
<div class="ab" style="left:112.0px;top:1207.6px;width:39.9px;height:28.3px;background:#cf2040;"></div>
<div class="rt" style="left:-295.5px;top:1216.6px;width:400px;height:10.6px;line-height:10.6px;font-size:7.6px;color:#111;font-weight:bold;font-family:'Liberation Sans','DejaVu Sans',sans-serif;"><span style="transform:scaleX(0.8197);transform-origin:right center">بین ۲۰ تا ۴۰ درصد</span></div>
<div class="lt" style="left:155.4px;top:1214.2px;width:400px;height:13.7px;line-height:13.7px;font-size:10.5px;color:#111;font-weight:bold;font-family:'Liberation Sans','DejaVu Sans',sans-serif;"><span style="transform:scaleX(0.88);transform-origin:left center">۱۰/۸</span></div>
<div class="ab" style="left:112.0px;top:1254.0px;width:58.7px;height:28.3px;background:#cf2040;"></div>
<div class="rt" style="left:-295.5px;top:1263.0px;width:400px;height:10.6px;line-height:10.6px;font-size:7.6px;color:#111;font-weight:bold;font-family:'Liberation Sans','DejaVu Sans',sans-serif;"><span style="transform:scaleX(0.7977);transform-origin:right center">کمتر از ۲۰ درصد</span></div>
<div class="lt" style="left:174.2px;top:1260.7px;width:400px;height:13.7px;line-height:13.7px;font-size:10.5px;color:#111;font-weight:bold;font-family:'Liberation Sans','DejaVu Sans',sans-serif;"><span style="transform:scaleX(0.88);transform-origin:left center">۱۵/۸</span></div>
<div class="ab" style="left:336.1px;top:1306.8px;width:12.1px;height:11.5px;background:#d1d3d4;"></div>
<div class="ab" style="left:339.8px;top:1310.8px;width:12.8px;height:3.3px;background:#e2202c;"></div>
<div class="hh" style="left:-67.4px;top:1301.9px"><span style="transform:scaleX(0.5961)">سهم کالاهای ایرانی</span></div>
<div class="ln" style="right:838.9px;top:1324.3px;width:377.1px;font-size:10.5px;color:#262626;transform:scaleX(0.8034)">در ۵۶.۲ درصد از فروشگاه‌های اینترنتی بیش از ۷۰ درصد محصولات کالای ایرانی هستند.</div>
<div class="ln" style="right:838.9px;top:1340.2px;width:377.1px;font-size:10.5px;color:#262626;transform:scaleX(0.8034)">در ۱۷.۲ درصد از فروشگاه‌ها، سهم کالاهای ایرانی بین ۴۰ تا ۷۰ درصد بوده، حدود ۱۰.۸</div>
<div class="ln" style="right:838.9px;top:1356.0px;width:377.1px;font-size:10.5px;color:#262626;transform:scaleX(0.8034)">درصد فروشگاه‌ها، بین ۲۰ تا ۴۰ درصد و ۱۵.۸ درصد نیز کمتر از ۲۰ درصد کالاهای ایرانی</div>
<div class="ln ll" style="right:838.9px;top:1372.0px;width:377.1px;font-size:10.5px;color:#262626;transform:scaleX(0.8034)">عرضه می‌کنند.</div>
<div class="hd" style="left:42.1px;top:1397.5px;width:310.5px"></div>
<div class="pn" style="left:42.1px;top:1408.6px;width:310.5px;height:190.5px"></div>
<div class="wm" style="left:-3.0px;top:1460.0px"><div class="wm1"><span style="transform:scaleX(0.899)">فرهیختگان</span></div><div class="wm2"><span style="transform:scaleX(1.572)">farhikhtegan</span></div></div>
<div class="ct" style="left:-202.4px;top:1412.7px;width:800px;height:14.7px;line-height:14.7px;font-size:10.5px;color:#111;font-weight:bold;font-family:'Liberation Sans','DejaVu Sans',sans-serif;"><span style="transform:scaleX(0.8410)">تعداد اینمادهای صادر شده و فعال از سال ۸۹ تا ۱۴۰۳</span></div>
<div class="ab" style="left:330.3px;top:1444.3px;width:8.0px;height:119.3px;background:#0f2d4a;"></div>
<div class="ab" style="left:338.3px;top:1521.4px;width:8.0px;height:42.2px;background:#cf2040;"></div>
<div class="ct" style="left:187.8px;top:1568.4px;width:300px;height:9.1px;line-height:9.1px;font-size:7px;color:#111;font-weight:bold;"><span style="transform:scaleX(0.774)">۱۴۰۳</span></div>
<div class="vl" style="left:334.3px;top:1441.3px;font-size:7.2px;color:#111"><span>۳۰۶.۰۸۰</span></div>
<div class="vl" style="left:342.3px;top:1518.4px;font-size:7.2px;color:#cf2040"><span>۱۱۰.۶۸۰</span></div>
<div class="ab" style="left:310.3px;top:1482.8px;width:8.0px;height:80.8px;background:#0f2d4a;"></div>
<div class="ab" style="left:318.3px;top:1531.9px;width:8.0px;height:31.7px;background:#cf2040;"></div>
<div class="ct" style="left:167.8px;top:1568.4px;width:300px;height:9.1px;line-height:9.1px;font-size:7px;color:#111;font-weight:bold;"><span style="transform:scaleX(0.774)">۱۴۰۲</span></div>
<div class="vl" style="left:314.3px;top:1479.8px;font-size:7.2px;color:#111"><span>۲۰۷.۳۱۷</span></div>
<div class="vl" style="left:322.3px;top:1528.9px;font-size:7.2px;color:#cf2040"><span>۸۱.۸۱۱</span></div>
<div class="ab" style="left:290.3px;top:1509.1px;width:8.0px;height:54.5px;background:#0f2d4a;"></div>
<div class="ab" style="left:298.3px;top:1549.0px;width:8.0px;height:14.6px;background:#cf2040;"></div>
<div class="ct" style="left:147.8px;top:1568.4px;width:300px;height:9.1px;line-height:9.1px;font-size:7px;color:#111;font-weight:bold;"><span style="transform:scaleX(0.774)">۱۴۰۱</span></div>
<div class="vl" style="left:294.3px;top:1506.1px;font-size:7.2px;color:#111"><span>۱۴۰.۹۹۰</span></div>
<div class="vl" style="left:302.3px;top:1546.0px;font-size:7.2px;color:#cf2040"><span>۳۸.۳۳۹</span></div>
<div class="ab" style="left:270.4px;top:1517.1px;width:8.0px;height:46.5px;background:#0f2d4a;"></div>
<div class="ab" style="left:278.4px;top:1550.5px;width:8.0px;height:13.1px;background:#cf2040;"></div>
<div class="ct" style="left:127.9px;top:1568.4px;width:300px;height:9.1px;line-height:9.1px;font-size:7px;color:#111;font-weight:bold;"><span style="transform:scaleX(0.774)">۱۴۰۰</span></div>
<div class="vl" style="left:274.4px;top:1514.1px;font-size:7.2px;color:#111"><span>۱۲۰.۳۸۸</span></div>
<div class="vl" style="left:282.4px;top:1547.5px;font-size:7.2px;color:#cf2040"><span>۳۴.۶۳۳</span></div>
<div class="ab" style="left:250.4px;top:1529.1px;width:8.0px;height:34.5px;background:#0f2d4a;"></div>
<div class="ab" style="left:258.4px;top:1551.6px;width:8.0px;height:12.0px;background:#cf2040;"></div>
<div class="ct" style="left:107.9px;top:1568.4px;width:300px;height:9.1px;line-height:9.1px;font-size:7px;color:#111;font-weight:bold;"><span style="transform:scaleX(0.774)">۱۳۹۹</span></div>
<div class="vl" style="left:254.4px;top:1526.1px;font-size:7.2px;color:#111"><span>۸۹.۰۱۱</span></div>
<div class="vl" style="left:262.4px;top:1548.6px;font-size:7.2px;color:#cf2040"><span>۳۱.۶۹۸</span></div>
<div class="ab" style="left:230.4px;top:1539.9px;width:8.0px;height:23.7px;background:#0f2d4a;"></div>
<div class="ab" style="left:238.4px;top:1557.9px;width:8.0px;height:5.7px;background:#cf2040;"></div>
<div class="ct" style="left:87.9px;top:1568.4px;width:300px;height:9.1px;line-height:9.1px;font-size:7px;color:#111;font-weight:bold;"><span style="transform:scaleX(0.774)">۱۳۹۸</span></div>
<div class="vl" style="left:234.4px;top:1536.9px;font-size:7.2px;color:#111"><span>۶۱.۰۴۳</span></div>
<div class="vl" style="left:242.4px;top:1554.9px;font-size:7.2px;color:#cf2040"><span>۱۵.۱۴۳</span></div>
<div class="ab" style="left:210.4px;top:1546.2px;width:8.0px;height:17.4px;background:#0f2d4a;"></div>
<div class="ab" style="left:218.4px;top:1558.2px;width:8.0px;height:5.4px;background:#cf2040;"></div>
<div class="ct" style="left:67.9px;top:1568.4px;width:300px;height:9.1px;line-height:9.1px;font-size:7px;color:#111;font-weight:bold;"><span style="transform:scaleX(0.774)">۱۳۹۷</span></div>
<div class="vl" style="left:214.4px;top:1543.2px;font-size:7.2px;color:#111"><span>۴۵.۹۱۴</span></div>
<div class="vl" style="left:222.4px;top:1555.2px;font-size:7.2px;color:#cf2040"><span>۱۴.۶۶۰</span></div>
<div class="ab" style="left:190.4px;top:1551.3px;width:8.0px;height:12.3px;background:#0f2d4a;"></div>
<div class="ab" style="left:198.4px;top:1559.9px;width:8.0px;height:3.7px;background:#cf2040;"></div>
<div class="ct" style="left:47.9px;top:1568.4px;width:300px;height:9.1px;line-height:9.1px;font-size:7px;color:#111;font-weight:bold;"><span style="transform:scaleX(0.774)">۱۳۹۶</span></div>
<div class="vl" style="left:194.4px;top:1548.3px;font-size:7.2px;color:#111"><span>۳۲.۳۵۹</span></div>
<div class="vl" style="left:202.4px;top:1556.9px;font-size:7.2px;color:#cf2040"><span>۱۰.۵۸۴</span></div>
<div class="ab" style="left:170.4px;top:1555.6px;width:8.0px;height:8.0px;background:#0f2d4a;"></div>
<div class="ab" style="left:178.4px;top:1560.2px;width:8.0px;height:3.4px;background:#cf2040;"></div>
<div class="ct" style="left:27.9px;top:1568.4px;width:300px;height:9.1px;line-height:9.1px;font-size:7px;color:#111;font-weight:bold;"><span style="transform:scaleX(0.774)">۱۳۹۵</span></div>
<div class="vl" style="left:174.4px;top:1552.6px;font-size:7.2px;color:#111"><span>۲۳.۲۰۱</span></div>
<div class="vl" style="left:182.4px;top:1557.2px;font-size:7.2px;color:#cf2040"><span>۱۰.۰۵۸</span></div>
<div class="ab" style="left:150.5px;top:1559.6px;width:8.0px;height:4.0px;background:#0f2d4a;"></div>
<div class="ab" style="left:158.5px;top:1561.3px;width:8.0px;height:2.3px;background:#cf2040;"></div>
<div class="ct" style="left:8.0px;top:1568.4px;width:300px;height:9.1px;line-height:9.1px;font-size:7px;color:#111;font-weight:bold;"><span style="transform:scaleX(0.774)">۱۳۹۴</span></div>
<div class="vl" style="left:154.5px;top:1556.6px;font-size:7.2px;color:#111"><span>۱۱.۶۱۷</span></div>
<div class="vl" style="left:162.5px;top:1558.3px;font-size:7.2px;color:#cf2040"><span>۶.۵۰۶</span></div>
<div class="ab" style="left:130.5px;top:1561.9px;width:8.0px;height:1.7px;background:#0f2d4a;"></div>
<div class="ab" style="left:138.5px;top:1562.2px;width:8.0px;height:1.4px;background:#cf2040;"></div>
<div class="ct" style="left:-12.0px;top:1568.4px;width:300px;height:9.1px;line-height:9.1px;font-size:7px;color:#111;font-weight:bold;"><span style="transform:scaleX(0.774)">۱۳۹۳</span></div>
<div class="vl" style="left:134.5px;top:1558.9px;font-size:7.2px;color:#111"><span>۵.۱۱۱</span></div>
<div class="vl" style="left:142.5px;top:1559.2px;font-size:7.2px;color:#cf2040"><span>۳.۹۳۸</span></div>
<div class="ab" style="left:110.5px;top:1563.0px;width:8.0px;height:0.6px;background:#0f2d4a;"></div>
<div class="ab" style="left:118.5px;top:1563.0px;width:8.0px;height:0.6px;background:#cf2040;"></div>
<div class="ct" style="left:-32.0px;top:1568.4px;width:300px;height:9.1px;line-height:9.1px;font-size:7px;color:#111;font-weight:bold;"><span style="transform:scaleX(0.774)">۱۳۹۲</span></div>
<div class="vl" style="left:114.5px;top:1560.0px;font-size:7.2px;color:#111"><span>۱.۱۸۳</span></div>
<div class="vl" style="left:122.5px;top:1560.0px;font-size:7.2px;color:#cf2040"><span>۱.۰۳۱</span></div>
<div class="ab" style="left:90.5px;top:1563.4px;width:8.0px;height:0.2px;background:#0f2d4a;"></div>
<div class="ab" style="left:98.5px;top:1563.4px;width:8.0px;height:0.2px;background:#cf2040;"></div>
<div class="ct" style="left:-52.0px;top:1568.4px;width:300px;height:9.1px;line-height:9.1px;font-size:7px;color:#111;font-weight:bold;"><span style="transform:scaleX(0.774)">۱۳۹۱</span></div>
<div class="vl" style="left:94.5px;top:1560.4px;font-size:7.2px;color:#111"><span>۱۵۲</span></div>
<div class="vl" style="left:102.5px;top:1560.4px;font-size:7.2px;color:#cf2040"><span>۱۴۱</span></div>
<div class="ab" style="left:70.5px;top:1563.5px;width:8.0px;height:0.1px;background:#0f2d4a;"></div>
<div class="ab" style="left:78.5px;top:1563.5px;width:8.0px;height:0.1px;background:#cf2040;"></div>
<div class="ct" style="left:-72.0px;top:1568.4px;width:300px;height:9.1px;line-height:9.1px;font-size:7px;color:#111;font-weight:bold;"><span style="transform:scaleX(0.774)">۱۳۹۰</span></div>
<div class="vl" style="left:74.5px;top:1560.5px;font-size:7.2px;color:#111"><span>۳۱</span></div>
<div class="vl" style="left:82.5px;top:1560.5px;font-size:7.2px;color:#cf2040"><span>۱۷</span></div>
<div class="ab" style="left:50.5px;top:1563.5px;width:8.0px;height:0.1px;background:#0f2d4a;"></div>
<div class="ab" style="left:58.5px;top:1563.5px;width:8.0px;height:0.1px;background:#cf2040;"></div>
<div class="ct" style="left:-92.0px;top:1568.4px;width:300px;height:9.1px;line-height:9.1px;font-size:7px;color:#111;font-weight:bold;"><span style="transform:scaleX(0.774)">۱۳۸۹</span></div>
<div class="vl" style="left:54.5px;top:1560.5px;font-size:7.2px;color:#111"><span>۴</span></div>
<div class="vl" style="left:62.5px;top:1560.5px;font-size:7.2px;color:#cf2040"><span>۴</span></div>
<div class="ab" style="left:214.1px;top:1587.7px;width:6.0px;height:6.0px;background:#0f2d4a;"></div>
<div class="lt" style="left:224.0px;top:1584.5px;width:400px;height:11.9px;line-height:11.9px;font-size:8.5px;color:#111;font-weight:bold;font-family:'Liberation Sans','DejaVu Sans',sans-serif;"><span style="transform:scaleX(0.7403);transform-origin:left center">فعال</span></div>
<div class="ab" style="left:159.0px;top:1587.7px;width:6.0px;height:6.0px;background:#cf2040;"></div>
<div class="lt" style="left:168.5px;top:1584.5px;width:400px;height:11.9px;line-height:11.9px;font-size:8.5px;color:#111;font-weight:bold;font-family:'Liberation Sans','DejaVu Sans',sans-serif;"><span style="transform:scaleX(0.8593);transform-origin:left center">صادر شده</span></div>
<div class="ab" style="left:336.1px;top:1606.3px;width:12.1px;height:11.5px;background:#d1d3d4;"></div>
<div class="ab" style="left:339.8px;top:1610.3px;width:12.8px;height:3.3px;background:#e2202c;"></div>
<div class="hh" style="left:-67.4px;top:1601.4px"><span style="transform:scaleX(0.6614)">جهش اینمادها</span></div>
<div class="ln" style="right:838.9px;top:1623.5px;width:411.6px;font-size:10.5px;color:#262626;transform:scaleX(0.7362)">در سال ۱۴۰۳، تعداد اینمادهای صادر شده نسبت به سال قبل بیش از ۳۵ درصد و تعداد اینمادهای</div>
<div class="ln ll" style="right:838.9px;top:1639.9px;width:411.6px;font-size:10.5px;color:#262626;transform:scaleX(0.7362)">فعال نیز حدود ۴۸ درصد افزایش یافته است.</div>
<div class="ab" style="left:1047.3px;top:0.0px;width:101.5px;height:160.6px;background:#ed1c24;"></div>
<div class="logo" style="left:1002px;top:53px;width:200px"><span>فرهیختگان</span></div>
<div class="sect" style="left:1090px;top:393px"><span>اقتصاد</span></div>
<div class="ab" style="left:1047.3px;top:625.3px;width:101.5px;height:3.8px;background:#e2202c;"></div>
<svg class="ab" style="left:1090px;top:635px" width="16" height="16" viewBox="0 0 16 16" fill="none" stroke="#a0a2a5" stroke-width="0.8">
<rect x="1.5" y="3" width="13" height="11.5"/><path d="M1.5 6.2H14.5M4.7 6.2V14.5M7.9 6.2V14.5M11.1 6.2V14.5M1.5 9H14.5M1.5 11.8H14.5M4.5 1.2V4M11.5 1.2V4"/></svg>
<div class="ct" style="left:697.7px;top:654.1px;width:800px;height:13.3px;line-height:13.3px;font-size:9.5px;color:#97999c;font-weight:normal;font-family:'Liberation Sans','DejaVu Sans',sans-serif;"><span style="transform:scaleX(0.9989)">شنبه ۲۶ مهر ۱۴۰۴</span></div>
<svg class="ab" style="left:1088px;top:676px" width="20" height="12" viewBox="0 0 20 12" fill="none" stroke="#a0a2a5" stroke-width="0.8">
<rect x="1" y="1.2" width="18" height="9.3"/><path d="M5.5 1.2V10.5M10 1.2V10.5M14.5 1.2V10.5M1 5.8H19"/></svg>
<div class="ct" style="left:698.0px;top:693.1px;width:800px;height:13.3px;line-height:13.3px;font-size:9.5px;color:#97999c;font-weight:normal;font-family:'Liberation Sans','DejaVu Sans',sans-serif;"><span style="transform:scaleX(1.1024)">شماره  ۴۵۳۳</span></div>
<svg class="ab" style="left:1089px;top:714px" width="18" height="15" viewBox="0 0 18 15" fill="none" stroke="#a0a2a5" stroke-width="0.8">
<rect x="1.5" y="1.5" width="15" height="11.5"/><path d="M1.5 4.2H16.5M4 7H9M4 9.5H7M10.5 7L12 9L14.5 6.5M7 13L8 11H10L11 13"/></svg>
<div class="ct" style="left:698.0px;top:734.0px;width:800px;height:11.2px;line-height:11.2px;font-size:8px;color:#a5a7aa;font-weight:normal;font-family:'Liberation Sans','DejaVu Sans',sans-serif;"><span style="transform:scaleX(0.9606)">FARHIKHTEGANDAILY.COM</span></div>
<svg class="ab" style="left:1089.5px;top:753.5px" width="17" height="17" viewBox="0 0 17 17" fill="none" stroke="#a0a2a5" stroke-width="0.8">
<circle cx="3.5" cy="3.5" r="2.2"/><circle cx="13.5" cy="3.5" r="2.2"/><circle cx="3.5" cy="13.5" r="2.2"/><circle cx="13.5" cy="13.5" r="2.2"/><rect x="3.5" y="3.5" width="10" height="10"/><circle cx="8.5" cy="8.5" r="1.8"/></svg>
<div class="ct" style="left:698.0px;top:774.7px;width:800px;height:11.2px;line-height:11.2px;font-size:8px;color:#97999c;font-weight:bold;font-family:'Liberation Sans','DejaVu Sans',sans-serif;"><span style="transform:scaleX(1.0716)">FARHIKHTEGANONLINE</span></div>
<div class="ab" style="left:1047.3px;top:794.8px;width:101.5px;height:3.6px;background:#e2202c;"></div>
<div class="ab" style="left:1047.3px;top:808.2px;width:101.5px;height:101.5px;background:#ed1c24;"></div>
<svg class="ab" style="left:1047px;top:922px" width="103" height="360" viewBox="0 0 103 360"><rect x="1.4" y="1.5" width="7.2" height="9.5" fill="#eaeaeb"/><rect x="1.4" y="13.3" width="7.2" height="9.5" fill="#eaeaeb"/><rect x="1.4" y="25.1" width="7.2" height="21.0" fill="#eaeaeb"/><rect x="1.4" y="48.4" width="7.2" height="32.0" fill="#eaeaeb"/><rect x="1.4" y="82.7" width="7.2" height="9.5" fill="#eaeaeb"/><rect x="1.4" y="94.5" width="7.2" height="9.5" fill="#eaeaeb"/><rect x="1.4" y="106.3" width="7.2" height="21.0" fill="#eaeaeb"/><rect x="1.4" y="129.6" width="7.2" height="9.5" fill="#eaeaeb"/><rect x="1.4" y="141.4" width="7.2" height="9.5" fill="#eaeaeb"/><rect x="1.4" y="153.2" width="7.2" height="21.0" fill="#eaeaeb"/><rect x="1.4" y="176.5" width="7.2" height="9.5" fill="#eaeaeb"/><rect x="1.4" y="188.3" width="7.2" height="21.0" fill="#eaeaeb"/><rect x="1.4" y="211.6" width="7.2" height="9.5" fill="#eaeaeb"/><rect x="1.4" y="223.4" width="7.2" height="9.5" fill="#eaeaeb"/><rect x="1.4" y="235.2" width="7.2" height="9.5" fill="#eaeaeb"/><rect x="1.4" y="247.0" width="7.2" height="21.0" fill="#eaeaeb"/><rect x="1.4" y="270.3" width="7.2" height="21.0" fill="#eaeaeb"/><rect x="1.4" y="293.6" width="7.2" height="9.5" fill="#eaeaeb"/><rect x="1.4" y="305.4" width="7.2" height="9.5" fill="#eaeaeb"/><rect x="1.4" y="317.2" width="7.2" height="9.5" fill="#eaeaeb"/><rect x="1.4" y="329.0" width="7.2" height="21.0" fill="#eaeaeb"/><rect x="1.4" y="352.3" width="7.2" height="5.7" fill="#eaeaeb"/><rect x="16.7" y="1.5" width="7.2" height="9.5" fill="#eaeaeb"/><rect x="16.7" y="13.3" width="7.2" height="21.0" fill="#eaeaeb"/><rect x="16.7" y="36.6" width="7.2" height="9.5" fill="#eaeaeb"/><rect x="16.7" y="48.4" width="7.2" height="9.5" fill="#eaeaeb"/><rect x="16.7" y="60.2" width="7.2" height="32.0" fill="#eaeaeb"/><rect x="16.7" y="94.5" width="7.2" height="32.0" fill="#eaeaeb"/><rect x="16.7" y="128.8" width="7.2" height="21.0" fill="#eaeaeb"/><rect x="16.7" y="152.1" width="7.2" height="9.5" fill="#eaeaeb"/><rect x="16.7" y="163.9" width="7.2" height="21.0" fill="#eaeaeb"/><rect x="16.7" y="187.2" width="7.2" height="21.0" fill="#eaeaeb"/><rect x="16.7" y="210.5" width="7.2" height="21.0" fill="#eaeaeb"/><rect x="16.7" y="233.8" width="7.2" height="9.5" fill="#eaeaeb"/><rect x="16.7" y="245.6" width="7.2" height="9.5" fill="#eaeaeb"/><rect x="16.7" y="257.4" width="7.2" height="9.5" fill="#eaeaeb"/><rect x="16.7" y="269.2" width="7.2" height="21.0" fill="#eaeaeb"/><rect x="16.7" y="292.5" width="7.2" height="9.5" fill="#eaeaeb"/><rect x="16.7" y="304.3" width="7.2" height="9.5" fill="#eaeaeb"/><rect x="16.7" y="316.1" width="7.2" height="21.0" fill="#eaeaeb"/><rect x="16.7" y="339.4" width="7.2" height="9.5" fill="#eaeaeb"/><rect x="16.7" y="351.2" width="7.2" height="6.8" fill="#eaeaeb"/><rect x="32.0" y="1.5" width="7.2" height="9.5" fill="#eaeaeb"/><rect x="32.0" y="13.3" width="7.2" height="21.0" fill="#eaeaeb"/><rect x="32.0" y="36.6" width="7.2" height="9.5" fill="#eaeaeb"/><rect x="32.0" y="48.4" width="7.2" height="21.0" fill="#eaeaeb"/><rect x="32.0" y="71.7" width="7.2" height="32.0" fill="#eaeaeb"/><rect x="32.0" y="106.0" width="7.2" height="9.5" fill="#eaeaeb"/><rect x="32.0" y="117.8" width="7.2" height="9.5" fill="#eaeaeb"/><rect x="32.0" y="129.6" width="7.2" height="21.0" fill="#eaeaeb"/><rect x="32.0" y="152.9" width="7.2" height="21.0" fill="#eaeaeb"/><rect x="32.0" y="176.2" width="7.2" height="32.0" fill="#eaeaeb"/><rect x="32.0" y="210.5" width="7.2" height="9.5" fill="#eaeaeb"/><rect x="32.0" y="222.3" width="7.2" height="9.5" fill="#eaeaeb"/><rect x="32.0" y="234.1" width="7.2" height="9.5" fill="#eaeaeb"/><rect x="32.0" y="245.9" width="7.2" height="21.0" fill="#eaeaeb"/><rect x="32.0" y="269.2" width="7.2" height="32.0" fill="#eaeaeb"/><rect x="32.0" y="303.5" width="7.2" height="9.5" fill="#eaeaeb"/><rect x="32.0" y="315.3" width="7.2" height="21.0" fill="#eaeaeb"/><rect x="32.0" y="338.6" width="7.2" height="9.5" fill="#eaeaeb"/><rect x="32.0" y="350.4" width="7.2" height="7.6" fill="#eaeaeb"/><rect x="47.3" y="1.5" width="7.2" height="9.5" fill="#eaeaeb"/><rect x="47.3" y="13.3" width="7.2" height="21.0" fill="#eaeaeb"/><rect x="47.3" y="36.6" width="7.2" height="32.0" fill="#eaeaeb"/><rect x="47.3" y="70.9" width="7.2" height="21.0" fill="#eaeaeb"/><rect x="47.3" y="94.2" width="7.2" height="21.0" fill="#eaeaeb"/><rect x="47.3" y="117.5" width="7.2" height="9.5" fill="#eaeaeb"/><rect x="47.3" y="129.3" width="7.2" height="21.0" fill="#eaeaeb"/><rect x="47.3" y="152.6" width="7.2" height="21.0" fill="#eaeaeb"/><rect x="47.3" y="175.9" width="7.2" height="21.0" fill="#eaeaeb"/><rect x="47.3" y="199.2" width="7.2" height="9.5" fill="#eaeaeb"/><rect x="47.3" y="211.0" width="7.2" height="9.5" fill="#eaeaeb"/><rect x="47.3" y="222.8" width="7.2" height="9.5" fill="#eaeaeb"/><rect x="47.3" y="234.6" width="7.2" height="9.5" fill="#eaeaeb"/><rect x="47.3" y="246.4" width="7.2" height="32.0" fill="#eaeaeb"/><rect x="47.3" y="280.7" width="7.2" height="9.5" fill="#eaeaeb"/><rect x="47.3" y="292.5" width="7.2" height="9.5" fill="#eaeaeb"/><rect x="47.3" y="304.3" width="7.2" height="21.0" fill="#eaeaeb"/><rect x="47.3" y="327.6" width="7.2" height="9.5" fill="#eaeaeb"/><rect x="47.3" y="339.4" width="7.2" height="18.6" fill="#eaeaeb"/><rect x="62.6" y="1.5" width="7.2" height="21.0" fill="#eaeaeb"/><rect x="62.6" y="24.8" width="7.2" height="9.5" fill="#eaeaeb"/><rect x="62.6" y="36.6" width="7.2" height="32.0" fill="#eaeaeb"/><rect x="62.6" y="70.9" width="7.2" height="21.0" fill="#eaeaeb"/><rect x="62.6" y="94.2" width="7.2" height="9.5" fill="#eaeaeb"/><rect x="62.6" y="106.0" width="7.2" height="21.0" fill="#eaeaeb"/><rect x="62.6" y="129.3" width="7.2" height="9.5" fill="#eaeaeb"/><rect x="62.6" y="141.1" width="7.2" height="9.5" fill="#eaeaeb"/><rect x="62.6" y="152.9" width="7.2" height="21.0" fill="#eaeaeb"/><rect x="62.6" y="176.2" width="7.2" height="21.0" fill="#eaeaeb"/><rect x="62.6" y="199.5" width="7.2" height="9.5" fill="#eaeaeb"/><rect x="62.6" y="211.3" width="7.2" height="9.5" fill="#eaeaeb"/><rect x="62.6" y="223.1" width="7.2" height="9.5" fill="#eaeaeb"/><rect x="62.6" y="234.9" width="7.2" height="21.0" fill="#eaeaeb"/><rect x="62.6" y="258.2" width="7.2" height="21.0" fill="#eaeaeb"/><rect x="62.6" y="281.5" width="7.2" height="9.5" fill="#eaeaeb"/><rect x="62.6" y="293.3" width="7.2" height="32.0" fill="#eaeaeb"/><rect x="62.6" y="327.6" width="7.2" height="9.5" fill="#eaeaeb"/><rect x="62.6" y="339.4" width="7.2" height="18.6" fill="#eaeaeb"/><rect x="77.9" y="1.5" width="7.2" height="21.0" fill="#eaeaeb"/><rect x="77.9" y="24.8" width="7.2" height="9.5" fill="#eaeaeb"/><rect x="77.9" y="36.6" width="7.2" height="9.5" fill="#eaeaeb"/><rect x="77.9" y="48.4" width="7.2" height="32.0" fill="#eaeaeb"/><rect x="77.9" y="82.7" width="7.2" height="9.5" fill="#eaeaeb"/><rect x="77.9" y="94.5" width="7.2" height="21.0" fill="#eaeaeb"/><rect x="77.9" y="117.8" width="7.2" height="21.0" fill="#eaeaeb"/><rect x="77.9" y="141.1" width="7.2" height="21.0" fill="#eaeaeb"/><rect x="77.9" y="164.4" width="7.2" height="21.0" fill="#eaeaeb"/><rect x="77.9" y="187.7" width="7.2" height="9.5" fill="#eaeaeb"/><rect x="77.9" y="199.5" width="7.2" height="9.5" fill="#eaeaeb"/><rect x="77.9" y="211.3" width="7.2" height="9.5" fill="#eaeaeb"/><rect x="77.9" y="223.1" width="7.2" height="21.0" fill="#eaeaeb"/><rect x="77.9" y="246.4" width="7.2" height="32.0" fill="#eaeaeb"/><rect x="77.9" y="280.7" width="7.2" height="32.0" fill="#eaeaeb"/><rect x="77.9" y="315.0" width="7.2" height="9.5" fill="#eaeaeb"/><rect x="77.9" y="326.8" width="7.2" height="9.5" fill="#eaeaeb"/><rect x="77.9" y="338.6" width="7.2" height="19.4" fill="#eaeaeb"/><rect x="93.2" y="1.5" width="7.2" height="32.0" fill="#eaeaeb"/><rect x="93.2" y="35.8" width="7.2" height="9.5" fill="#eaeaeb"/><rect x="93.2" y="47.6" width="7.2" height="32.0" fill="#eaeaeb"/><rect x="93.2" y="81.9" width="7.2" height="21.0" fill="#eaeaeb"/><rect x="93.2" y="105.2" width="7.2" height="32.0" fill="#eaeaeb"/><rect x="93.2" y="139.5" width="7.2" height="21.0" fill="#eaeaeb"/><rect x="93.2" y="162.8" width="7.2" height="9.5" fill="#eaeaeb"/><rect x="93.2" y="174.6" width="7.2" height="32.0" fill="#eaeaeb"/><rect x="93.2" y="208.9" width="7.2" height="21.0" fill="#eaeaeb"/><rect x="93.2" y="232.2" width="7.2" height="32.0" fill="#eaeaeb"/><rect x="93.2" y="266.5" width="7.2" height="9.5" fill="#eaeaeb"/><rect x="93.2" y="278.3" width="7.2" height="9.5" fill="#eaeaeb"/><rect x="93.2" y="290.1" width="7.2" height="21.0" fill="#eaeaeb"/><rect x="93.2" y="313.4" width="7.2" height="9.5" fill="#eaeaeb"/><rect x="93.2" y="325.2" width="7.2" height="9.5" fill="#eaeaeb"/><rect x="93.2" y="337.0" width="7.2" height="21.0" fill="#eaeaeb"/></svg>
<div class="rt" style="left:747.5px;top:1283.5px;width:400px;height:13.3px;line-height:13.3px;font-size:9.5px;color:#d3203f;font-weight:bold;font-family:'Liberation Sans','DejaVu Sans',sans-serif;"><span style="transform:scaleX(0.7234);transform-origin:right center">مدیرمسئول:</span></div>
<div class="ab" style="left:1143.8px;top:1304.6px;width:4.0px;height:4.0px;background:#c9cacc;"></div>
<div class="rt" style="left:737.4px;top:1299.9px;width:400px;height:13.3px;line-height:13.3px;font-size:9.5px;color:#333;font-weight:normal;font-family:'Liberation Sans','DejaVu Sans',sans-serif;"><span style="transform:scaleX(0.8581);transform-origin:right center">محمدامین ایمانجانی</span></div>
<div class="rt" style="left:747.5px;top:1316.3px;width:400px;height:13.3px;line-height:13.3px;font-size:9.5px;color:#d3203f;font-weight:bold;font-family:'Liberation Sans','DejaVu Sans',sans-serif;"><span style="transform:scaleX(0.6900);transform-origin:right center">قائم‌مقام مدیرمسئول:</span></div>
<div class="ab" style="left:1143.8px;top:1336.7px;width:4.0px;height:4.0px;background:#c9cacc;"></div>
<div class="rt" style="left:737.4px;top:1332.0px;width:400px;height:13.3px;line-height:13.3px;font-size:9.5px;color:#333;font-weight:normal;font-family:'Liberation Sans','DejaVu Sans',sans-serif;"><span style="transform:scaleX(0.8044);transform-origin:right center">مسعود فروغی</span></div>
<div class="rt" style="left:747.5px;top:1349.3px;width:400px;height:13.3px;line-height:13.3px;font-size:9.5px;color:#d3203f;font-weight:bold;font-family:'Liberation Sans','DejaVu Sans',sans-serif;"><span style="transform:scaleX(0.6820);transform-origin:right center">سردبیر:</span></div>
<div class="ab" style="left:1143.8px;top:1369.0px;width:4.0px;height:4.0px;background:#c9cacc;"></div>
<div class="rt" style="left:737.4px;top:1364.3px;width:400px;height:13.3px;line-height:13.3px;font-size:9.5px;color:#333;font-weight:normal;font-family:'Liberation Sans','DejaVu Sans',sans-serif;"><span style="transform:scaleX(0.8052);transform-origin:right center">محمد زعیم‌زاده</span></div>
<div class="rt" style="left:747.5px;top:1380.8px;width:400px;height:13.3px;line-height:13.3px;font-size:9.5px;color:#d3203f;font-weight:bold;font-family:'Liberation Sans','DejaVu Sans',sans-serif;"><span style="transform:scaleX(0.7697);transform-origin:right center">تلفن و فکس:</span></div>
<div class="ab" style="left:1143.8px;top:1400.2px;width:4.0px;height:4.0px;background:#c9cacc;"></div>
<div class="rt" style="left:737.4px;top:1395.5px;width:400px;height:13.3px;line-height:13.3px;font-size:9.5px;color:#333;font-weight:normal;font-family:'Liberation Sans','DejaVu Sans',sans-serif;"><span style="transform:scaleX(1.0288);transform-origin:right center">(۰۲۱) ۶۲۹۹۹۴۹۵</span></div>
<div class="rt" style="left:747.5px;top:1412.9px;width:400px;height:13.3px;line-height:13.3px;font-size:9.5px;color:#d3203f;font-weight:bold;font-family:'Liberation Sans','DejaVu Sans',sans-serif;"><span style="transform:scaleX(0.7578);transform-origin:right center">کدپستی:</span></div>
<div class="ab" style="left:1143.8px;top:1432.8px;width:4.0px;height:4.0px;background:#c9cacc;"></div>
<div class="rt" style="left:737.4px;top:1428.1px;width:400px;height:13.3px;line-height:13.3px;font-size:9.5px;color:#333;font-weight:normal;font-family:'Liberation Sans','DejaVu Sans',sans-serif;"><span style="transform:scaleX(0.9602);transform-origin:right center">۱۱۳۵۶۳۳۸۱۶</span></div>
<div class="rt" style="left:747.5px;top:1444.8px;width:400px;height:13.3px;line-height:13.3px;font-size:9.5px;color:#d3203f;font-weight:bold;font-family:'Liberation Sans','DejaVu Sans',sans-serif;"><span style="transform:scaleX(0.8951);transform-origin:right center">چاپ:</span></div>
<div class="ab" style="left:1143.8px;top:1465.6px;width:4.0px;height:4.0px;background:#c9cacc;"></div>
<div class="rt" style="left:737.4px;top:1460.9px;width:400px;height:13.3px;line-height:13.3px;font-size:9.5px;color:#333;font-weight:normal;font-family:'Liberation Sans','DejaVu Sans',sans-serif;"><span style="transform:scaleX(0.8003);transform-origin:right center">چاپخانه دانشگاه آزاد اسلامی</span></div>
<div class="rt" style="left:747.5px;top:1476.8px;width:400px;height:13.3px;line-height:13.3px;font-size:9.5px;color:#d3203f;font-weight:bold;font-family:'Liberation Sans','DejaVu Sans',sans-serif;"><span style="transform:scaleX(0.6846);transform-origin:right center">نشانی:</span></div>
<div class="ab" style="left:1143.8px;top:1498.0px;width:4.0px;height:4.0px;background:#c9cacc;"></div>
<div class="rt" style="left:741.0px;top:1493.3px;width:400px;height:13.3px;line-height:13.3px;font-size:9.5px;color:#333;font-weight:normal;font-family:'Liberation Sans','DejaVu Sans',sans-serif;"><span style="transform:scaleX(0.7109);transform-origin:right center">خیابان حافظ، پایین‌تر از جمهوری</span></div>
<div class="rt" style="left:747.5px;top:1508.9px;width:400px;height:13.3px;line-height:13.3px;font-size:9.5px;color:#333;font-weight:normal;font-family:'Liberation Sans','DejaVu Sans',sans-serif;"><span style="transform:scaleX(0.6872);transform-origin:right center">روبه‌روی ساختمان بورس</span></div>
<div class="rt" style="left:747.5px;top:1524.9px;width:400px;height:13.3px;line-height:13.3px;font-size:9.5px;color:#333;font-weight:normal;font-family:'Liberation Sans','DejaVu Sans',sans-serif;"><span style="transform:scaleX(0.7335);transform-origin:right center">ساختمان فرهیختگان، طبقه سوم</span></div>
<div class="pno" style="left:1047.3px;top:1547px;width:101.5px"><span>۸</span></div>
<div class="ab" style="left:1047.3px;top:1644.0px;width:101.5px;height:56.0px;background:#c7c8ca;"></div>
<div class="wm wo" style="left:667.0px;top:110.0px"><div class="wm1"><span style="transform:scaleX(0.899)">فرهیختگان</span></div><div class="wm2"><span style="transform:scaleX(1.572)">farhikhtegan</span></div></div>
<div class="wm wo" style="left:667.0px;top:388.0px"><div class="wm1"><span style="transform:scaleX(0.899)">فرهیختگان</span></div><div class="wm2"><span style="transform:scaleX(1.572)">farhikhtegan</span></div></div>
<div class="wm wo" style="left:667.0px;top:698.0px"><div class="wm1"><span style="transform:scaleX(0.899)">فرهیختگان</span></div><div class="wm2"><span style="transform:scaleX(1.572)">farhikhtegan</span></div></div>
<div class="wm wo" style="left:667.0px;top:1012.0px"><div class="wm1"><span style="transform:scaleX(0.899)">فرهیختگان</span></div><div class="wm2"><span style="transform:scaleX(1.572)">farhikhtegan</span></div></div>
<div class="wm wo" style="left:667.0px;top:1327.0px"><div class="wm1"><span style="transform:scaleX(0.899)">فرهیختگان</span></div><div class="wm2"><span style="transform:scaleX(1.572)">farhikhtegan</span></div></div>
<div class="wm wo" style="left:333.0px;top:422.0px"><div class="wm1"><span style="transform:scaleX(0.899)">فرهیختگان</span></div><div class="wm2"><span style="transform:scaleX(1.572)">farhikhtegan</span></div></div>
<div class="wm wo" style="left:333.0px;top:732.0px"><div class="wm1"><span style="transform:scaleX(0.899)">فرهیختگان</span></div><div class="wm2"><span style="transform:scaleX(1.572)">farhikhtegan</span></div></div>
<div class="wm wo" style="left:333.0px;top:1103.0px"><div class="wm1"><span style="transform:scaleX(0.899)">فرهیختگان</span></div><div class="wm2"><span style="transform:scaleX(1.572)">farhikhtegan</span></div></div>
<div class="wm wo" style="left:333.0px;top:1415.0px"><div class="wm1"><span style="transform:scaleX(0.899)">فرهیختگان</span></div><div class="wm2"><span style="transform:scaleX(1.572)">farhikhtegan</span></div></div>
<div class="wm wo" style="left:-3.0px;top:110.0px"><div class="wm1"><span style="transform:scaleX(0.899)">فرهیختگان</span></div><div class="wm2"><span style="transform:scaleX(1.572)">farhikhtegan</span></div></div>
<div class="wm wo" style="left:-3.0px;top:437.0px"><div class="wm1"><span style="transform:scaleX(0.899)">فرهیختگان</span></div><div class="wm2"><span style="transform:scaleX(1.572)">farhikhtegan</span></div></div>
<div class="wm wo" style="left:-3.0px;top:1155.0px"><div class="wm1"><span style="transform:scaleX(0.899)">فرهیختگان</span></div><div class="wm2"><span style="transform:scaleX(1.572)">farhikhtegan</span></div></div>
<div class="wm wo" style="left:-3.0px;top:1460.0px"><div class="wm1"><span style="transform:scaleX(0.899)">فرهیختگان</span></div><div class="wm2"><span style="transform:scaleX(1.572)">farhikhtegan</span></div></div>
</body></html>
